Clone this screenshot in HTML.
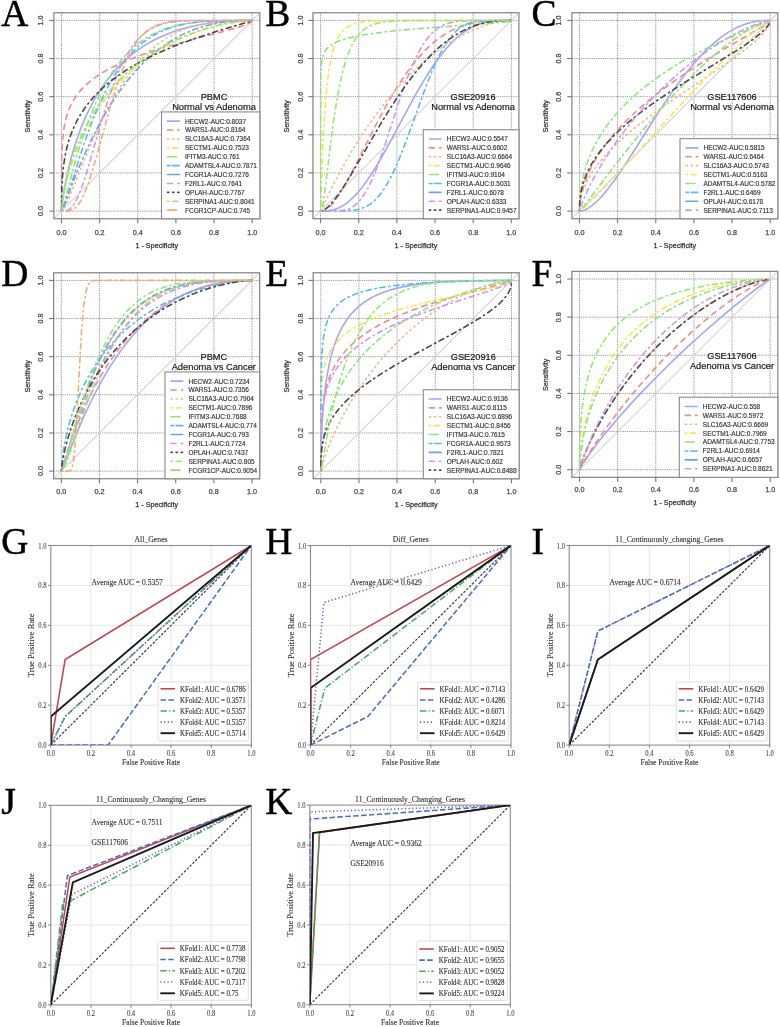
<!DOCTYPE html>
<html><head><meta charset="utf-8"><title>ROC figure</title>
<style>html,body{margin:0;padding:0;background:#fff;width:780px;height:1027px;overflow:hidden}svg{display:block;will-change:transform;filter:blur(0.6px)}text{font-variant-ligatures:none;font-kerning:normal}</style>
</head><body>
<svg width="780" height="1027" viewBox="0 0 780 1027"><text x="1.2" y="26.3" font-family='"Liberation Serif", serif' font-size="37.5" text-anchor="start" fill="#000" stroke="#000" stroke-width="0.45">A</text>
<text x="265.2" y="26.3" font-family='"Liberation Serif", serif' font-size="37.5" text-anchor="start" fill="#000" stroke="#000" stroke-width="0.45">B</text>
<text x="531.4" y="26.3" font-family='"Liberation Serif", serif' font-size="37.5" text-anchor="start" fill="#000" stroke="#000" stroke-width="0.45">C</text>
<text x="1.2" y="286.4" font-family='"Liberation Serif", serif' font-size="37.5" text-anchor="start" fill="#000" stroke="#000" stroke-width="0.45">D</text>
<text x="265.2" y="286.4" font-family='"Liberation Serif", serif' font-size="37.5" text-anchor="start" fill="#000" stroke="#000" stroke-width="0.45">E</text>
<text x="531.4" y="286.4" font-family='"Liberation Serif", serif' font-size="37.5" text-anchor="start" fill="#000" stroke="#000" stroke-width="0.45">F</text>
<text x="1.2" y="554.2" font-family='"Liberation Serif", serif' font-size="37.5" text-anchor="start" fill="#000" stroke="#000" stroke-width="0.45">G</text>
<text x="265.2" y="554.2" font-family='"Liberation Serif", serif' font-size="37.5" text-anchor="start" fill="#000" stroke="#000" stroke-width="0.45">H</text>
<text x="531.4" y="554.2" font-family='"Liberation Serif", serif' font-size="37.5" text-anchor="start" fill="#000" stroke="#000" stroke-width="0.45">I</text>
<text x="1.2" y="814" font-family='"Liberation Serif", serif' font-size="37.5" text-anchor="start" fill="#000" stroke="#000" stroke-width="0.45">J</text>
<text x="265.2" y="814" font-family='"Liberation Serif", serif' font-size="37.5" text-anchor="start" fill="#000" stroke="#000" stroke-width="0.45">K</text>
<line x1="61.5" y1="12.77" x2="61.5" y2="218.73" stroke="#9c9c9c" stroke-width="1" stroke-dasharray="1.3 0.9" stroke-linecap="butt"/>
<line x1="53.87" y1="211.1" x2="259.83" y2="211.1" stroke="#9c9c9c" stroke-width="1" stroke-dasharray="1.3 0.9" stroke-linecap="butt"/>
<line x1="99.64" y1="12.77" x2="99.64" y2="218.73" stroke="#9c9c9c" stroke-width="1" stroke-dasharray="1.3 0.9" stroke-linecap="butt"/>
<line x1="53.87" y1="172.96" x2="259.83" y2="172.96" stroke="#9c9c9c" stroke-width="1" stroke-dasharray="1.3 0.9" stroke-linecap="butt"/>
<line x1="137.78" y1="12.77" x2="137.78" y2="218.73" stroke="#9c9c9c" stroke-width="1" stroke-dasharray="1.3 0.9" stroke-linecap="butt"/>
<line x1="53.87" y1="134.82" x2="259.83" y2="134.82" stroke="#9c9c9c" stroke-width="1" stroke-dasharray="1.3 0.9" stroke-linecap="butt"/>
<line x1="175.92" y1="12.77" x2="175.92" y2="218.73" stroke="#9c9c9c" stroke-width="1" stroke-dasharray="1.3 0.9" stroke-linecap="butt"/>
<line x1="53.87" y1="96.68" x2="259.83" y2="96.68" stroke="#9c9c9c" stroke-width="1" stroke-dasharray="1.3 0.9" stroke-linecap="butt"/>
<line x1="214.06" y1="12.77" x2="214.06" y2="218.73" stroke="#9c9c9c" stroke-width="1" stroke-dasharray="1.3 0.9" stroke-linecap="butt"/>
<line x1="53.87" y1="58.54" x2="259.83" y2="58.54" stroke="#9c9c9c" stroke-width="1" stroke-dasharray="1.3 0.9" stroke-linecap="butt"/>
<line x1="252.2" y1="12.77" x2="252.2" y2="218.73" stroke="#9c9c9c" stroke-width="1" stroke-dasharray="1.3 0.9" stroke-linecap="butt"/>
<line x1="53.87" y1="20.4" x2="259.83" y2="20.4" stroke="#9c9c9c" stroke-width="1" stroke-dasharray="1.3 0.9" stroke-linecap="butt"/>
<line x1="53.87" y1="218.73" x2="259.83" y2="12.77" stroke="#d6d6d6" stroke-width="1.1" stroke-linecap="butt"/>
<path d="M61.5 211.1 L62.57 201.2 L64.28 189.73 L66.41 178.27 L68.92 166.89 L71.72 156.01 L74.84 145.44 L78.2 135.42 L81.9 125.65 L85.77 116.58 L89.99 107.76 L94.46 99.42 L99.18 91.55 L104.14 84.16 L109.33 77.24 L114.84 70.68 L120.57 64.61 L126.45 59.05 L132.62 53.88 L139.05 49.11 L145.6 44.82 L152.67 40.76 L159.85 37.19 L167.46 33.92 L175.33 31.04 L183.44 28.54 L192.02 26.36 L200.84 24.55 L210.15 23.06 L219.92 21.9 L230.17 21.08 L240.9 20.58 L252.2 20.4" fill="none" stroke="#a6a6f6" stroke-width="1.6" stroke-linecap="round" stroke-linejoin="round"/>
<path d="M61.5 211.1 L61.55 172.14 L61.88 153.16 L62.77 138.04 L63.48 131.61 L64.37 125.88 L65.65 119.85 L67.21 114.3 L69.12 109.01 L71.31 104.19 L73.96 99.42 L76.86 95.09 L80.24 90.83 L84.01 86.79 L88.27 82.85 L92.88 79.12 L98.08 75.44 L103.8 71.84 L110 68.38 L116.67 65.02 L124.07 61.66 L131.93 58.42 L148.86 52.27 L168.65 46.08 L188.92 40.43 L227.87 30.27 L239.94 26.79 L245.46 24.9 L249.28 23.23 L251.51 21.75 L252.04 21.07 L252.2 20.4" fill="none" stroke="#f68888" stroke-width="1.6" stroke-dasharray="5.12 5.12" stroke-linecap="round" stroke-linejoin="round"/>
<path d="M61.5 211.1 L62.51 210.38 L63.91 208.43 L67.56 201.25 L72.21 190.26 L85.47 157.12 L92.21 141.14 L100.6 122.78 L108.82 106.57 L113.17 98.7 L117.54 91.31 L121.92 84.4 L126.47 77.72 L131.03 71.52 L135.75 65.62 L140.36 60.31 L145.17 55.27 L150.29 50.4 L155.54 45.92 L161.02 41.76 L166.42 38.16 L172.02 34.88 L177.85 31.94 L183.67 29.44 L189.87 27.22 L196.07 25.4 L202.4 23.92 L209.09 22.71 L216.21 21.77 L223.49 21.11 L231.61 20.68 L252.2 20.4" fill="none" stroke="#f6b87f" stroke-width="1.6" stroke-dasharray="1.28 3.84" stroke-linecap="round" stroke-linejoin="round"/>
<path d="M61.5 211.1 L62.27 203.44 L63.75 194.31 L65.76 184.78 L68.21 175.24 L71.02 165.94 L74.24 156.64 L77.83 147.54 L81.76 138.65 L85.93 130.18 L90.45 121.91 L95.21 113.99 L100.28 106.33 L105.65 98.94 L111.34 91.79 L117.37 84.87 L123.59 78.37 L130.07 72.17 L136.83 66.27 L143.77 60.76 L151.01 55.52 L158.6 50.54 L166.25 46.01 L174.14 41.8 L182.29 37.9 L190.81 34.29 L199.46 31.07 L208.23 28.24 L217.29 25.75 L226.59 23.65 L235.59 22.06 L244.47 20.92 L252.2 20.4" fill="none" stroke="#f1e950" stroke-width="1.6" stroke-dasharray="1.28 3.84 5.12 3.84" stroke-linecap="round" stroke-linejoin="round"/>
<path d="M61.5 211.1 L62.36 209.36 L63.76 204.81 L73.2 168.8 L79.7 146.39 L86.38 126.36 L89.85 117.06 L93.33 108.48 L97.33 99.42 L101.38 91.07 L105.59 83.2 L109.83 76.05 L114.29 69.28 L118.97 62.94 L123.71 57.21 L128.63 51.97 L133.6 47.3 L138.85 43 L144.33 39.11 L149.82 35.77 L155.54 32.81 L161.74 30.12 L168.18 27.83 L174.8 25.94 L181.53 24.41 L188.68 23.16 L196.44 22.16 L204.89 21.41 L223.81 20.59 L252.2 20.4" fill="none" stroke="#8fe181" stroke-width="1.6" stroke-dasharray="1.28 3.84 5.12 3.84" stroke-linecap="round" stroke-linejoin="round"/>
<path d="M61.5 211.1 L62.29 210.37 L63.34 208.42 L66.14 200.99 L79.38 158.07 L86.79 135.9 L93.13 118.97 L99.51 103.89 L103.51 95.36 L107.53 87.5 L111.67 80.1 L115.91 73.19 L120.25 66.79 L124.58 61.03 L129.18 55.55 L133.84 50.6 L138.61 46.12 L143.62 42 L148.69 38.36 L154.11 35.02 L159.59 32.16 L165.54 29.56 L171.52 27.41 L177.95 25.55 L184.39 24.09 L191.3 22.9 L198.7 21.97 L206.56 21.29 L224.45 20.56 L252.2 20.4" fill="none" stroke="#56bbf0" stroke-width="1.6" stroke-dasharray="1.28 3.84 5.12 3.84" stroke-linecap="round" stroke-linejoin="round"/>
<path d="M61.5 211.1 L62.27 209.77 L63.64 206.59 L75.08 176.91 L83.34 157.12 L92.06 138.28 L100.96 121.11 L105.94 112.36 L110.92 104.19 L116.04 96.32 L121.2 88.95 L126.45 81.99 L131.87 75.34 L137.34 69.14 L142.83 63.41 L148.57 57.93 L154.36 52.89 L160.31 48.2 L166.42 43.87 L172.71 39.88 L178.91 36.4 L185.34 33.24 L192.02 30.4 L198.7 27.98 L205.61 25.89 L212.74 24.14 L219.93 22.77 L227.37 21.71 L235.18 20.97 L243.28 20.54 L252.2 20.4" fill="none" stroke="#6ca3f0" stroke-width="1.6" stroke-dasharray="1.28 3.84 5.12 3.84" stroke-linecap="round" stroke-linejoin="round"/>
<path d="M61.5 211.1 L64.56 211.02 L66.6 210.64 L68.53 209.81 L70.42 208.43 L72.27 206.47 L74.15 203.85 L75.96 200.71 L77.91 196.7 L81.48 187.88 L85.37 176.43 L89.59 162.6 L99.73 127.31 L104.65 110.86 L110 94.38 L115.11 80.34 L118.1 72.96 L121.07 66.27 L124.11 60.08 L127.16 54.47 L130.26 49.41 L133.43 44.85 L136.68 40.76 L140.04 37.13 L143.33 34.09 L146.68 31.46 L150.29 29.11 L153.93 27.17 L157.83 25.5 L161.98 24.12 L166.51 22.98 L171.51 22.08 L181.05 21.08 L193.45 20.57 L252.2 20.4" fill="none" stroke="#cb98f6" stroke-width="1.6" stroke-dasharray="1.28 3.84 5.12 3.84" stroke-linecap="round" stroke-linejoin="round"/>
<path d="M61.5 211.1 L61.82 188.07 L62.29 178.82 L63 170.47 L64.01 162.36 L65.31 154.73 L66.9 147.58 L68.82 140.65 L71.13 133.85 L73.81 127.3 L76.86 121 L80.29 114.92 L84.14 109 L88.3 103.39 L93.04 97.75 L98.08 92.43 L103.56 87.24 L109.72 82.01 L116.2 77.04 L123.11 72.24 L130.5 67.56 L138.49 62.94 L146.95 58.46 L155.78 54.16 L164.6 50.2 L173.9 46.31 L183.67 42.52 L193.93 38.8 L215.39 31.75 L247.6 22.17 L250.88 21.06 L252.2 20.4" fill="none" stroke="#494949" stroke-width="1.6" stroke-dasharray="1.28 3.84 5.12 3.84" stroke-linecap="round" stroke-linejoin="round"/>
<path d="M61.5 211.1 L62.14 203.29 L63.46 193.84 L65.26 184.26 L67.54 174.52 L70.18 165.11 L73.17 155.93 L76.55 146.87 L80.28 138.04 L84.36 129.46 L88.66 121.35 L93.31 113.45 L98.24 105.85 L103.54 98.46 L109.04 91.5 L115 84.63 L121.14 78.2 L127.64 72 L134.32 66.22 L141.23 60.76 L148.62 55.48 L156.02 50.7 L163.88 46.1 L171.99 41.86 L180.27 37.98 L188.92 34.4 L197.74 31.19 L206.8 28.33 L216.1 25.84 L225.64 23.74 L234.94 22.12 L244.24 20.94 L252.2 20.4" fill="none" stroke="#8feb73" stroke-width="1.6" stroke-dasharray="1.28 3.84 5.12 3.84" stroke-linecap="round" stroke-linejoin="round"/>
<path d="M61.5 211.1 L66.52 211.05 L69.43 210.74 L71.91 210 L74.26 208.7 L76.62 206.65 L78.97 203.75 L81.28 200.04 L83.53 195.55 L87.58 185.52 L92 172.14 L96.51 156.64 L110.9 104.42 L115.82 88.45 L120.43 75.1 L125.81 61.74 L128.6 55.8 L131.36 50.54 L134.11 45.89 L136.94 41.69 L139.9 37.9 L142.95 34.56 L145.88 31.86 L148.86 29.56 L151.96 27.57 L155.3 25.85 L158.64 24.49 L162.45 23.29 L166.51 22.36 L171.04 21.64 L179.62 20.87 L191.07 20.5 L252.2 20.4" fill="none" stroke="#f6ab70" stroke-width="1.6" stroke-dasharray="1.28 3.84 5.12 3.84" stroke-linecap="round" stroke-linejoin="round"/>
<rect x="53.87" y="12.77" width="205.96" height="205.96" fill="none" stroke="#8a8a8a" stroke-width="1.3"/>
<line x1="61.5" y1="218.73" x2="61.5" y2="223.33" stroke="#777" stroke-width="1.1" stroke-linecap="butt"/>
<text x="61.5" y="234.7" font-family='"Liberation Sans", sans-serif' font-size="7.2" text-anchor="middle" fill="#4a4a4a" stroke="#4a4a4a" stroke-width="0.25">0.0</text>
<line x1="53.87" y1="211.1" x2="49.27" y2="211.1" stroke="#777" stroke-width="1.1" stroke-linecap="butt"/>
<text x="0" y="0" font-family='"Liberation Sans", sans-serif' font-size="7.2" text-anchor="middle" fill="#4a4a4a" stroke="#4a4a4a" stroke-width="0.25" transform="translate(43.4 211.1) rotate(-90)">0.0</text>
<line x1="99.64" y1="218.73" x2="99.64" y2="223.33" stroke="#777" stroke-width="1.1" stroke-linecap="butt"/>
<text x="99.64" y="234.7" font-family='"Liberation Sans", sans-serif' font-size="7.2" text-anchor="middle" fill="#4a4a4a" stroke="#4a4a4a" stroke-width="0.25">0.2</text>
<line x1="53.87" y1="172.96" x2="49.27" y2="172.96" stroke="#777" stroke-width="1.1" stroke-linecap="butt"/>
<text x="0" y="0" font-family='"Liberation Sans", sans-serif' font-size="7.2" text-anchor="middle" fill="#4a4a4a" stroke="#4a4a4a" stroke-width="0.25" transform="translate(43.4 172.96) rotate(-90)">0.2</text>
<line x1="137.78" y1="218.73" x2="137.78" y2="223.33" stroke="#777" stroke-width="1.1" stroke-linecap="butt"/>
<text x="137.78" y="234.7" font-family='"Liberation Sans", sans-serif' font-size="7.2" text-anchor="middle" fill="#4a4a4a" stroke="#4a4a4a" stroke-width="0.25">0.4</text>
<line x1="53.87" y1="134.82" x2="49.27" y2="134.82" stroke="#777" stroke-width="1.1" stroke-linecap="butt"/>
<text x="0" y="0" font-family='"Liberation Sans", sans-serif' font-size="7.2" text-anchor="middle" fill="#4a4a4a" stroke="#4a4a4a" stroke-width="0.25" transform="translate(43.4 134.82) rotate(-90)">0.4</text>
<line x1="175.92" y1="218.73" x2="175.92" y2="223.33" stroke="#777" stroke-width="1.1" stroke-linecap="butt"/>
<text x="175.92" y="234.7" font-family='"Liberation Sans", sans-serif' font-size="7.2" text-anchor="middle" fill="#4a4a4a" stroke="#4a4a4a" stroke-width="0.25">0.6</text>
<line x1="53.87" y1="96.68" x2="49.27" y2="96.68" stroke="#777" stroke-width="1.1" stroke-linecap="butt"/>
<text x="0" y="0" font-family='"Liberation Sans", sans-serif' font-size="7.2" text-anchor="middle" fill="#4a4a4a" stroke="#4a4a4a" stroke-width="0.25" transform="translate(43.4 96.68) rotate(-90)">0.6</text>
<line x1="214.06" y1="218.73" x2="214.06" y2="223.33" stroke="#777" stroke-width="1.1" stroke-linecap="butt"/>
<text x="214.06" y="234.7" font-family='"Liberation Sans", sans-serif' font-size="7.2" text-anchor="middle" fill="#4a4a4a" stroke="#4a4a4a" stroke-width="0.25">0.8</text>
<line x1="53.87" y1="58.54" x2="49.27" y2="58.54" stroke="#777" stroke-width="1.1" stroke-linecap="butt"/>
<text x="0" y="0" font-family='"Liberation Sans", sans-serif' font-size="7.2" text-anchor="middle" fill="#4a4a4a" stroke="#4a4a4a" stroke-width="0.25" transform="translate(43.4 58.54) rotate(-90)">0.8</text>
<line x1="252.2" y1="218.73" x2="252.2" y2="223.33" stroke="#777" stroke-width="1.1" stroke-linecap="butt"/>
<text x="252.2" y="234.7" font-family='"Liberation Sans", sans-serif' font-size="7.2" text-anchor="middle" fill="#4a4a4a" stroke="#4a4a4a" stroke-width="0.25">1.0</text>
<line x1="53.87" y1="20.4" x2="49.27" y2="20.4" stroke="#777" stroke-width="1.1" stroke-linecap="butt"/>
<text x="0" y="0" font-family='"Liberation Sans", sans-serif' font-size="7.2" text-anchor="middle" fill="#4a4a4a" stroke="#4a4a4a" stroke-width="0.25" transform="translate(43.4 20.4) rotate(-90)">1.0</text>
<text x="0" y="0" font-family='"Liberation Sans", sans-serif' font-size="7.2" text-anchor="middle" fill="#333" stroke="#333" stroke-width="0.25" transform="translate(29.9 116.25) rotate(-90)">Sensitivity</text>
<text x="156.85" y="247.7" font-family='"Liberation Sans", sans-serif' font-size="7.2" text-anchor="middle" fill="#333" stroke="#333" stroke-width="0.25">1 - Specificity</text>
<text x="214" y="100.1" font-family='"Liberation Sans", sans-serif' font-size="9.2" text-anchor="middle" fill="#151515" stroke="#151515" stroke-width="0.18">PBMC</text>
<text x="214" y="110" font-family='"Liberation Sans", sans-serif' font-size="9.3" text-anchor="middle" fill="#151515" stroke="#151515" stroke-width="0.18">Normal vs Adenoma</text>
<rect x="161.5" y="111.93" width="98.33" height="106.8" fill="#fff" stroke="#8a8a8a" stroke-width="1.1"/>
<line x1="167.5" y1="121.13" x2="179.3" y2="121.13" stroke="#a6a6f6" stroke-width="1.6" stroke-linecap="round"/>
<text x="185" y="123.53" font-family='"Liberation Sans", sans-serif' font-size="6.5" text-anchor="start" fill="#333" stroke="#333" stroke-width="0.15">HECW2-AUC:0.8037</text>
<line x1="167.5" y1="130.03" x2="179.3" y2="130.03" stroke="#f68888" stroke-width="1.6" stroke-dasharray="5.12 5.12" stroke-linecap="round"/>
<text x="185" y="132.43" font-family='"Liberation Sans", sans-serif' font-size="6.5" text-anchor="start" fill="#333" stroke="#333" stroke-width="0.15">WARS1-AUC:0.8164</text>
<line x1="167.5" y1="138.93" x2="179.3" y2="138.93" stroke="#f6b87f" stroke-width="1.6" stroke-dasharray="1.28 3.84" stroke-linecap="round"/>
<text x="185" y="141.33" font-family='"Liberation Sans", sans-serif' font-size="6.5" text-anchor="start" fill="#333" stroke="#333" stroke-width="0.15">SLC16A3-AUC:0.7364</text>
<line x1="167.5" y1="147.83" x2="179.3" y2="147.83" stroke="#f1e950" stroke-width="1.6" stroke-dasharray="1.28 3.84 5.12 3.84" stroke-linecap="round"/>
<text x="185" y="150.23" font-family='"Liberation Sans", sans-serif' font-size="6.5" text-anchor="start" fill="#333" stroke="#333" stroke-width="0.15">SECTM1-AUC:0.7523</text>
<line x1="167.5" y1="156.73" x2="179.3" y2="156.73" stroke="#8fe181" stroke-width="1.6" stroke-dasharray="8.96 3.84" stroke-linecap="round"/>
<text x="185" y="159.13" font-family='"Liberation Sans", sans-serif' font-size="6.5" text-anchor="start" fill="#333" stroke="#333" stroke-width="0.15">IFITM3-AUC:0.761</text>
<line x1="167.5" y1="165.63" x2="179.3" y2="165.63" stroke="#56bbf0" stroke-width="1.6" stroke-dasharray="2.56 2.56 7.68 2.56" stroke-linecap="round"/>
<text x="185" y="168.03" font-family='"Liberation Sans", sans-serif' font-size="6.5" text-anchor="start" fill="#333" stroke="#333" stroke-width="0.15">ADAMTSL4-AUC:0.7871</text>
<line x1="167.5" y1="174.53" x2="179.3" y2="174.53" stroke="#6ca3f0" stroke-width="1.6" stroke-linecap="round"/>
<text x="185" y="176.93" font-family='"Liberation Sans", sans-serif' font-size="6.5" text-anchor="start" fill="#333" stroke="#333" stroke-width="0.15">FCGR1A-AUC:0.7276</text>
<line x1="167.5" y1="183.43" x2="179.3" y2="183.43" stroke="#cb98f6" stroke-width="1.6" stroke-dasharray="5.12 5.12" stroke-linecap="round"/>
<text x="185" y="185.83" font-family='"Liberation Sans", sans-serif' font-size="6.5" text-anchor="start" fill="#333" stroke="#333" stroke-width="0.15">F2RL1-AUC:0.7641</text>
<line x1="167.5" y1="192.33" x2="179.3" y2="192.33" stroke="#494949" stroke-width="1.6" stroke-dasharray="1.28 3.84" stroke-linecap="round"/>
<text x="185" y="194.73" font-family='"Liberation Sans", sans-serif' font-size="6.5" text-anchor="start" fill="#333" stroke="#333" stroke-width="0.15">OPLAH-AUC:0.7767</text>
<line x1="167.5" y1="201.23" x2="179.3" y2="201.23" stroke="#8feb73" stroke-width="1.6" stroke-dasharray="1.28 3.84 5.12 3.84" stroke-linecap="round"/>
<text x="185" y="203.63" font-family='"Liberation Sans", sans-serif' font-size="6.5" text-anchor="start" fill="#333" stroke="#333" stroke-width="0.15">SERPINA1-AUC:0.8041</text>
<line x1="167.5" y1="210.13" x2="179.3" y2="210.13" stroke="#f6ab70" stroke-width="1.6" stroke-dasharray="8.96 3.84" stroke-linecap="round"/>
<text x="185" y="212.53" font-family='"Liberation Sans", sans-serif' font-size="6.5" text-anchor="start" fill="#333" stroke="#333" stroke-width="0.15">FCGR1CP-AUC:0.745</text>
<line x1="320.6" y1="12.77" x2="320.6" y2="218.73" stroke="#9c9c9c" stroke-width="1" stroke-dasharray="1.3 0.9" stroke-linecap="butt"/>
<line x1="312.97" y1="211.1" x2="518.93" y2="211.1" stroke="#9c9c9c" stroke-width="1" stroke-dasharray="1.3 0.9" stroke-linecap="butt"/>
<line x1="358.74" y1="12.77" x2="358.74" y2="218.73" stroke="#9c9c9c" stroke-width="1" stroke-dasharray="1.3 0.9" stroke-linecap="butt"/>
<line x1="312.97" y1="172.96" x2="518.93" y2="172.96" stroke="#9c9c9c" stroke-width="1" stroke-dasharray="1.3 0.9" stroke-linecap="butt"/>
<line x1="396.88" y1="12.77" x2="396.88" y2="218.73" stroke="#9c9c9c" stroke-width="1" stroke-dasharray="1.3 0.9" stroke-linecap="butt"/>
<line x1="312.97" y1="134.82" x2="518.93" y2="134.82" stroke="#9c9c9c" stroke-width="1" stroke-dasharray="1.3 0.9" stroke-linecap="butt"/>
<line x1="435.02" y1="12.77" x2="435.02" y2="218.73" stroke="#9c9c9c" stroke-width="1" stroke-dasharray="1.3 0.9" stroke-linecap="butt"/>
<line x1="312.97" y1="96.68" x2="518.93" y2="96.68" stroke="#9c9c9c" stroke-width="1" stroke-dasharray="1.3 0.9" stroke-linecap="butt"/>
<line x1="473.16" y1="12.77" x2="473.16" y2="218.73" stroke="#9c9c9c" stroke-width="1" stroke-dasharray="1.3 0.9" stroke-linecap="butt"/>
<line x1="312.97" y1="58.54" x2="518.93" y2="58.54" stroke="#9c9c9c" stroke-width="1" stroke-dasharray="1.3 0.9" stroke-linecap="butt"/>
<line x1="511.3" y1="12.77" x2="511.3" y2="218.73" stroke="#9c9c9c" stroke-width="1" stroke-dasharray="1.3 0.9" stroke-linecap="butt"/>
<line x1="312.97" y1="20.4" x2="518.93" y2="20.4" stroke="#9c9c9c" stroke-width="1" stroke-dasharray="1.3 0.9" stroke-linecap="butt"/>
<line x1="312.97" y1="218.73" x2="518.93" y2="12.77" stroke="#d6d6d6" stroke-width="1.1" stroke-linecap="butt"/>
<path d="M320.6 211.1 L327.07 210.91 L332.14 210.15 L337.13 208.62 L341.92 206.33 L346.76 203.14 L351.69 198.97 L356.7 193.84 L361.87 187.64 L366.12 181.92 L370.53 175.45 L375.19 168.09 L380.16 159.74 L389.37 143.29 L413.21 98.97 L420.12 86.79 L426.43 76.29 L433.24 65.8 L439.9 56.5 L446.35 48.49 L452.62 41.72 L458.99 35.88 L465.43 31.05 L471.86 27.26 L478.54 24.35 L485.22 22.38 L492.37 21.14 L500.24 20.53 L511.3 20.4" fill="none" stroke="#a6a6f6" stroke-width="1.6" stroke-linecap="round" stroke-linejoin="round"/>
<path d="M320.6 211.1 L322.63 210.88 L324.72 210.14 L326.81 208.93 L329.04 207.17 L331.41 204.84 L333.83 202.04 L339.2 194.55 L344.16 186.45 L349.78 176.3 L378.24 120.4 L386.08 105.85 L393.36 93.22 L401.6 80.1 L409.79 68.42 L417.76 58.41 L425.85 49.64 L430.15 45.53 L434.59 41.69 L438.96 38.29 L443.49 35.15 L448.02 32.39 L452.79 29.87 L457.56 27.73 L462.33 25.93 L467.11 24.44 L472.1 23.21 L477.35 22.21 L482.91 21.44 L494.75 20.6 L511.3 20.4" fill="none" stroke="#f68888" stroke-width="1.6" stroke-dasharray="5.12 5.12" stroke-linecap="round" stroke-linejoin="round"/>
<path d="M320.6 211.1 L332.13 187.16 L341.3 169.52 L351.59 151.4 L362.29 134.23 L373.58 117.78 L385.22 102.44 L391.18 95.17 L397.21 88.21 L403.32 81.53 L409.39 75.28 L415.73 69.14 L421.98 63.44 L428.33 58.04 L434.77 52.92 L441.25 48.15 L447.78 43.72 L454.31 39.66 L460.79 35.99 L467.34 32.66 L474.01 29.63 L480.69 26.99 L487.12 24.82 L493.56 23.04 L499.86 21.68 L505.96 20.77 L511.3 20.4" fill="none" stroke="#f6b87f" stroke-width="1.6" stroke-dasharray="1.28 3.84" stroke-linecap="round" stroke-linejoin="round"/>
<path d="M320.6 211.1 L322.13 162.6 L323.61 129.46 L325.49 101.32 L326.58 89.4 L327.79 78.67 L329.09 69.37 L330.56 61.03 L332.21 53.64 L333.98 47.44 L335.96 42.04 L338.17 37.42 L340.59 33.61 L343.35 30.38 L345.73 28.29 L348.35 26.52 L351.31 25.03 L354.52 23.83 L358.13 22.87 L362.42 22.08 L372.75 21.07 L384.12 20.65 L401.29 20.45 L511.3 20.4" fill="none" stroke="#f1e950" stroke-width="1.6" stroke-dasharray="1.28 3.84 5.12 3.84" stroke-linecap="round" stroke-linejoin="round"/>
<path d="M320.6 211.1 L320.61 90.64 L320.9 70.09 L321.56 62.05 L322.1 58.9 L322.78 56.26 L323.66 53.87 L324.81 51.6 L326.18 49.59 L327.77 47.8 L330.47 45.51 L333.81 43.42 L337.78 41.53 L342.54 39.76 L348.12 38.12 L354.55 36.59 L361.94 35.15 L370.4 33.77 L389.36 31.35 L413.21 29.03 L435.38 27.27 L484.77 23.83 L500.49 22.57 L509.22 21.48 L510.91 20.98 L511.23 20.73 L511.3 20.4" fill="none" stroke="#8fe181" stroke-width="1.6" stroke-dasharray="1.28 3.84 5.12 3.84" stroke-linecap="round" stroke-linejoin="round"/>
<path d="M320.6 211.1 L339.53 211.07 L347.64 210.84 L354.55 210.16 L360.28 208.89 L363.18 207.89 L366 206.62 L368.68 205.11 L371.24 203.35 L373.83 201.23 L376.31 198.84 L381.17 193.12 L385.4 186.92 L389.78 179.29 L394.16 170.47 L398.78 159.98 L406.97 139 L425.92 86.54 L431 73.67 L435.65 62.94 L440.55 52.92 L445.34 44.58 L450.15 37.66 L454.92 32.22 L459.23 28.45 L463.73 25.5 L468.52 23.33 L473.85 21.82 L479.03 21.02 L485.45 20.57 L511.3 20.4" fill="none" stroke="#56bbf0" stroke-width="1.6" stroke-dasharray="1.28 3.84 5.12 3.84" stroke-linecap="round" stroke-linejoin="round"/>
<path d="M320.6 211.1 L333.36 211.07 L339.29 210.84 L344.32 210.16 L348.59 208.91 L350.81 207.9 L352.88 206.71 L356.94 203.51 L360.75 199.31 L364.57 193.86 L367.91 188.03 L371.24 181.21 L374.64 173.33 L378.21 164.11 L384.8 145.2 L401.52 93.86 L406.53 79.87 L411.15 68.18 L416.31 56.78 L421.33 47.44 L423.94 43.28 L426.56 39.57 L429.18 36.3 L431.88 33.37 L434.43 30.99 L436.81 29.08 L439.44 27.29 L442.3 25.68 L445.16 24.38 L448.26 23.27 L451.6 22.37 L455.07 21.69 L461.85 20.91 L470.3 20.52 L511.3 20.4" fill="none" stroke="#cb98f6" stroke-width="1.6" stroke-dasharray="1.28 3.84 5.12 3.84" stroke-linecap="round" stroke-linejoin="round"/>
<path d="M320.6 211.1 L322.18 210.81 L324.03 209.98 L326.07 208.63 L328.22 206.8 L332.96 201.71 L338.34 194.63 L343.37 187.16 L349.17 177.86 L380.2 124.69 L388.66 110.86 L396.62 98.51 L405.58 85.55 L414.36 73.9 L422.92 63.65 L431.41 54.59 L436.1 50.07 L440.72 45.96 L445.4 42.13 L450.11 38.62 L454.72 35.52 L459.48 32.66 L464.23 30.13 L469 27.93 L473.77 26.04 L478.58 24.45 L483.56 23.12 L488.66 22.06 L493.83 21.29 L499.21 20.76 L511.3 20.4" fill="none" stroke="#494949" stroke-width="1.6" stroke-dasharray="1.28 3.84 5.12 3.84" stroke-linecap="round" stroke-linejoin="round"/>
<path d="M320.6 211.1 L320.99 211 L321.33 210.63 L322.03 208.86 L323.61 200.75 L325.52 186.45 L330.89 141.14 L333.64 120.4 L337.21 97.71 L340.92 78.91 L342.99 70.33 L345.13 62.7 L347.37 55.88 L349.73 49.82 L352.18 44.58 L354.89 39.81 L357.65 35.88 L360.71 32.42 L363.38 30.02 L366.34 27.89 L369.57 26.07 L372.91 24.65 L376.73 23.44 L380.78 22.51 L385.55 21.76 L390.8 21.23 L401.05 20.71 L416.07 20.46 L511.3 20.4" fill="none" stroke="#8feb73" stroke-width="1.6" stroke-dasharray="1.28 3.84 5.12 3.84" stroke-linecap="round" stroke-linejoin="round"/>
<rect x="312.97" y="12.77" width="205.96" height="205.96" fill="none" stroke="#8a8a8a" stroke-width="1.3"/>
<line x1="320.6" y1="218.73" x2="320.6" y2="223.33" stroke="#777" stroke-width="1.1" stroke-linecap="butt"/>
<text x="320.6" y="234.7" font-family='"Liberation Sans", sans-serif' font-size="7.2" text-anchor="middle" fill="#4a4a4a" stroke="#4a4a4a" stroke-width="0.25">0.0</text>
<line x1="312.97" y1="211.1" x2="308.37" y2="211.1" stroke="#777" stroke-width="1.1" stroke-linecap="butt"/>
<text x="0" y="0" font-family='"Liberation Sans", sans-serif' font-size="7.2" text-anchor="middle" fill="#4a4a4a" stroke="#4a4a4a" stroke-width="0.25" transform="translate(302.5 211.1) rotate(-90)">0.0</text>
<line x1="358.74" y1="218.73" x2="358.74" y2="223.33" stroke="#777" stroke-width="1.1" stroke-linecap="butt"/>
<text x="358.74" y="234.7" font-family='"Liberation Sans", sans-serif' font-size="7.2" text-anchor="middle" fill="#4a4a4a" stroke="#4a4a4a" stroke-width="0.25">0.2</text>
<line x1="312.97" y1="172.96" x2="308.37" y2="172.96" stroke="#777" stroke-width="1.1" stroke-linecap="butt"/>
<text x="0" y="0" font-family='"Liberation Sans", sans-serif' font-size="7.2" text-anchor="middle" fill="#4a4a4a" stroke="#4a4a4a" stroke-width="0.25" transform="translate(302.5 172.96) rotate(-90)">0.2</text>
<line x1="396.88" y1="218.73" x2="396.88" y2="223.33" stroke="#777" stroke-width="1.1" stroke-linecap="butt"/>
<text x="396.88" y="234.7" font-family='"Liberation Sans", sans-serif' font-size="7.2" text-anchor="middle" fill="#4a4a4a" stroke="#4a4a4a" stroke-width="0.25">0.4</text>
<line x1="312.97" y1="134.82" x2="308.37" y2="134.82" stroke="#777" stroke-width="1.1" stroke-linecap="butt"/>
<text x="0" y="0" font-family='"Liberation Sans", sans-serif' font-size="7.2" text-anchor="middle" fill="#4a4a4a" stroke="#4a4a4a" stroke-width="0.25" transform="translate(302.5 134.82) rotate(-90)">0.4</text>
<line x1="435.02" y1="218.73" x2="435.02" y2="223.33" stroke="#777" stroke-width="1.1" stroke-linecap="butt"/>
<text x="435.02" y="234.7" font-family='"Liberation Sans", sans-serif' font-size="7.2" text-anchor="middle" fill="#4a4a4a" stroke="#4a4a4a" stroke-width="0.25">0.6</text>
<line x1="312.97" y1="96.68" x2="308.37" y2="96.68" stroke="#777" stroke-width="1.1" stroke-linecap="butt"/>
<text x="0" y="0" font-family='"Liberation Sans", sans-serif' font-size="7.2" text-anchor="middle" fill="#4a4a4a" stroke="#4a4a4a" stroke-width="0.25" transform="translate(302.5 96.68) rotate(-90)">0.6</text>
<line x1="473.16" y1="218.73" x2="473.16" y2="223.33" stroke="#777" stroke-width="1.1" stroke-linecap="butt"/>
<text x="473.16" y="234.7" font-family='"Liberation Sans", sans-serif' font-size="7.2" text-anchor="middle" fill="#4a4a4a" stroke="#4a4a4a" stroke-width="0.25">0.8</text>
<line x1="312.97" y1="58.54" x2="308.37" y2="58.54" stroke="#777" stroke-width="1.1" stroke-linecap="butt"/>
<text x="0" y="0" font-family='"Liberation Sans", sans-serif' font-size="7.2" text-anchor="middle" fill="#4a4a4a" stroke="#4a4a4a" stroke-width="0.25" transform="translate(302.5 58.54) rotate(-90)">0.8</text>
<line x1="511.3" y1="218.73" x2="511.3" y2="223.33" stroke="#777" stroke-width="1.1" stroke-linecap="butt"/>
<text x="511.3" y="234.7" font-family='"Liberation Sans", sans-serif' font-size="7.2" text-anchor="middle" fill="#4a4a4a" stroke="#4a4a4a" stroke-width="0.25">1.0</text>
<line x1="312.97" y1="20.4" x2="308.37" y2="20.4" stroke="#777" stroke-width="1.1" stroke-linecap="butt"/>
<text x="0" y="0" font-family='"Liberation Sans", sans-serif' font-size="7.2" text-anchor="middle" fill="#4a4a4a" stroke="#4a4a4a" stroke-width="0.25" transform="translate(302.5 20.4) rotate(-90)">1.0</text>
<text x="0" y="0" font-family='"Liberation Sans", sans-serif' font-size="7.2" text-anchor="middle" fill="#333" stroke="#333" stroke-width="0.25" transform="translate(289 116.25) rotate(-90)">Sensitivity</text>
<text x="415.95" y="247.7" font-family='"Liberation Sans", sans-serif' font-size="7.2" text-anchor="middle" fill="#333" stroke="#333" stroke-width="0.25">1 - Specificity</text>
<text x="473.1" y="100.1" font-family='"Liberation Sans", sans-serif' font-size="9.2" text-anchor="middle" fill="#151515" stroke="#151515" stroke-width="0.18">GSE20916</text>
<text x="473.1" y="110" font-family='"Liberation Sans", sans-serif' font-size="9.3" text-anchor="middle" fill="#151515" stroke="#151515" stroke-width="0.18">Normal vs Adenoma</text>
<rect x="423.3" y="129.73" width="95.63" height="89" fill="#fff" stroke="#8a8a8a" stroke-width="1.1"/>
<line x1="429.3" y1="138.93" x2="441.1" y2="138.93" stroke="#a6a6f6" stroke-width="1.6" stroke-linecap="round"/>
<text x="446.8" y="141.33" font-family='"Liberation Sans", sans-serif' font-size="6.5" text-anchor="start" fill="#333" stroke="#333" stroke-width="0.15">HECW2-AUC:0.5547</text>
<line x1="429.3" y1="147.83" x2="441.1" y2="147.83" stroke="#f68888" stroke-width="1.6" stroke-dasharray="5.12 5.12" stroke-linecap="round"/>
<text x="446.8" y="150.23" font-family='"Liberation Sans", sans-serif' font-size="6.5" text-anchor="start" fill="#333" stroke="#333" stroke-width="0.15">WARS1-AUC:0.6602</text>
<line x1="429.3" y1="156.73" x2="441.1" y2="156.73" stroke="#f6b87f" stroke-width="1.6" stroke-dasharray="1.28 3.84" stroke-linecap="round"/>
<text x="446.8" y="159.13" font-family='"Liberation Sans", sans-serif' font-size="6.5" text-anchor="start" fill="#333" stroke="#333" stroke-width="0.15">SLC16A3-AUC:0.6664</text>
<line x1="429.3" y1="165.63" x2="441.1" y2="165.63" stroke="#f1e950" stroke-width="1.6" stroke-dasharray="1.28 3.84 5.12 3.84" stroke-linecap="round"/>
<text x="446.8" y="168.03" font-family='"Liberation Sans", sans-serif' font-size="6.5" text-anchor="start" fill="#333" stroke="#333" stroke-width="0.15">SECTM1-AUC:0.9646</text>
<line x1="429.3" y1="174.53" x2="441.1" y2="174.53" stroke="#8fe181" stroke-width="1.6" stroke-dasharray="8.96 3.84" stroke-linecap="round"/>
<text x="446.8" y="176.93" font-family='"Liberation Sans", sans-serif' font-size="6.5" text-anchor="start" fill="#333" stroke="#333" stroke-width="0.15">IFITM3-AUC:0.9104</text>
<line x1="429.3" y1="183.43" x2="441.1" y2="183.43" stroke="#56bbf0" stroke-width="1.6" stroke-dasharray="2.56 2.56 7.68 2.56" stroke-linecap="round"/>
<text x="446.8" y="185.83" font-family='"Liberation Sans", sans-serif' font-size="6.5" text-anchor="start" fill="#333" stroke="#333" stroke-width="0.15">FCGR1A-AUC:0.5031</text>
<line x1="429.3" y1="192.33" x2="441.1" y2="192.33" stroke="#6ca3f0" stroke-width="1.6" stroke-linecap="round"/>
<text x="446.8" y="194.73" font-family='"Liberation Sans", sans-serif' font-size="6.5" text-anchor="start" fill="#333" stroke="#333" stroke-width="0.15">F2RL1-AUC:0.6078</text>
<line x1="429.3" y1="201.23" x2="441.1" y2="201.23" stroke="#cb98f6" stroke-width="1.6" stroke-dasharray="5.12 5.12" stroke-linecap="round"/>
<text x="446.8" y="203.63" font-family='"Liberation Sans", sans-serif' font-size="6.5" text-anchor="start" fill="#333" stroke="#333" stroke-width="0.15">OPLAH-AUC:0.6333</text>
<line x1="429.3" y1="210.13" x2="441.1" y2="210.13" stroke="#494949" stroke-width="1.6" stroke-dasharray="1.28 3.84" stroke-linecap="round"/>
<text x="446.8" y="212.53" font-family='"Liberation Sans", sans-serif' font-size="6.5" text-anchor="start" fill="#333" stroke="#333" stroke-width="0.15">SERPINA1-AUC:0.9457</text>
<line x1="579.5" y1="12.77" x2="579.5" y2="218.73" stroke="#9c9c9c" stroke-width="1" stroke-dasharray="1.3 0.9" stroke-linecap="butt"/>
<line x1="571.87" y1="211.1" x2="777.83" y2="211.1" stroke="#9c9c9c" stroke-width="1" stroke-dasharray="1.3 0.9" stroke-linecap="butt"/>
<line x1="617.64" y1="12.77" x2="617.64" y2="218.73" stroke="#9c9c9c" stroke-width="1" stroke-dasharray="1.3 0.9" stroke-linecap="butt"/>
<line x1="571.87" y1="172.96" x2="777.83" y2="172.96" stroke="#9c9c9c" stroke-width="1" stroke-dasharray="1.3 0.9" stroke-linecap="butt"/>
<line x1="655.78" y1="12.77" x2="655.78" y2="218.73" stroke="#9c9c9c" stroke-width="1" stroke-dasharray="1.3 0.9" stroke-linecap="butt"/>
<line x1="571.87" y1="134.82" x2="777.83" y2="134.82" stroke="#9c9c9c" stroke-width="1" stroke-dasharray="1.3 0.9" stroke-linecap="butt"/>
<line x1="693.92" y1="12.77" x2="693.92" y2="218.73" stroke="#9c9c9c" stroke-width="1" stroke-dasharray="1.3 0.9" stroke-linecap="butt"/>
<line x1="571.87" y1="96.68" x2="777.83" y2="96.68" stroke="#9c9c9c" stroke-width="1" stroke-dasharray="1.3 0.9" stroke-linecap="butt"/>
<line x1="732.06" y1="12.77" x2="732.06" y2="218.73" stroke="#9c9c9c" stroke-width="1" stroke-dasharray="1.3 0.9" stroke-linecap="butt"/>
<line x1="571.87" y1="58.54" x2="777.83" y2="58.54" stroke="#9c9c9c" stroke-width="1" stroke-dasharray="1.3 0.9" stroke-linecap="butt"/>
<line x1="770.2" y1="12.77" x2="770.2" y2="218.73" stroke="#9c9c9c" stroke-width="1" stroke-dasharray="1.3 0.9" stroke-linecap="butt"/>
<line x1="571.87" y1="20.4" x2="777.83" y2="20.4" stroke="#9c9c9c" stroke-width="1" stroke-dasharray="1.3 0.9" stroke-linecap="butt"/>
<line x1="571.87" y1="218.73" x2="777.83" y2="12.77" stroke="#d6d6d6" stroke-width="1.1" stroke-linecap="butt"/>
<path d="M579.5 211.1 L582.35 210.74 L585.45 209.68 L588.77 207.9 L592.26 205.44 L595.83 202.4 L599.76 198.5 L603.92 193.87 L608.21 188.61 L615.6 178.68 L623.98 166.42 L632.53 153.23 L658.04 112.98 L666.2 100.61 L673.78 89.6 L682.12 78.16 L690.14 67.94 L697.89 58.88 L705.49 50.85 L713.6 43.27 L721.46 36.93 L729.33 31.63 L737.2 27.39 L741.02 25.71 L745.07 24.2 L748.95 23 L753.02 22.01 L756.99 21.28 L761.27 20.76 L770.2 20.4" fill="none" stroke="#a6a6f6" stroke-width="1.6" stroke-linecap="round" stroke-linejoin="round"/>
<path d="M579.5 211.1 L579.73 205.85 L580.36 200.35 L581.36 194.79 L582.75 189.07 L584.49 183.35 L586.59 177.62 L589.04 171.9 L591.81 166.23 L594.98 160.46 L598.43 154.79 L602.25 149.1 L606.31 143.53 L610.82 137.81 L615.6 132.17 L620.84 126.4 L626.33 120.75 L637.3 110.35 L649.41 99.95 L662.57 89.61 L677.12 79.07 L692.11 68.96 L708.59 58.52 L722.57 50.06 L751.53 33.09 L761.04 27.32 L767.48 22.98 L769.38 21.4 L770.2 20.4" fill="none" stroke="#f68888" stroke-width="1.6" stroke-dasharray="5.12 5.12" stroke-linecap="round" stroke-linejoin="round"/>
<path d="M579.5 211.1 L579.62 207.22 L579.99 203.37 L580.61 199.56 L581.48 195.74 L582.6 191.93 L584 188.04 L587.56 180.25 L592.16 172.38 L597.87 164.33 L604.63 156.18 L612.5 147.85 L620.61 140.12 L629.8 132.08 L640.08 123.74 L651.43 115.1 L662.21 107.29 L674.49 98.71 L726.47 63.51 L738.22 55.07 L747.8 47.68 L752.94 43.38 L757.41 39.33 L761.09 35.66 L764.25 32.11 L766.77 28.76 L768.62 25.65 L769.78 22.83 L770.2 20.4" fill="none" stroke="#f6b87f" stroke-width="1.6" stroke-dasharray="1.28 3.84" stroke-linecap="round" stroke-linejoin="round"/>
<path d="M579.5 211.1 L583.18 208.37 L589.34 202.8 L597.01 195.27 L606.54 185.44 L625.37 165.28 L685.95 99.18 L704.77 79.26 L721.22 62.46 L737.41 46.72 L751.22 34.25 L757.44 29.08 L762.71 25.03 L767.21 21.96 L770.2 20.4" fill="none" stroke="#f1e950" stroke-width="1.6" stroke-dasharray="1.28 3.84 5.12 3.84" stroke-linecap="round" stroke-linejoin="round"/>
<path d="M579.5 211.1 L582.15 208.26 L587.12 202.03 L611.55 169.76 L624.42 153.09 L644.12 128.62 L655.9 114.68 L667.58 101.45 L678.93 89.16 L689.99 77.8 L701.9 66.27 L713.36 55.94 L724.56 46.61 L735.16 38.59 L745.55 31.62 L755.08 26.14 L759.59 23.94 L763.73 22.21 L767.44 20.97 L770.2 20.4" fill="none" stroke="#8fe181" stroke-width="1.6" stroke-dasharray="1.28 3.84 5.12 3.84" stroke-linecap="round" stroke-linejoin="round"/>
<path d="M579.5 211.1 L579.68 203.33 L580.21 195.78 L581.1 188.35 L582.32 181.2 L583.9 174.17 L585.84 167.26 L588.14 160.46 L590.8 153.78 L593.88 147.1 L597.24 140.71 L600.93 134.47 L605.11 128.15 L609.64 121.96 L614.54 115.88 L619.81 109.91 L625.37 104.11 L631.34 98.38 L637.67 92.74 L644.3 87.26 L651.36 81.8 L658.76 76.48 L666.62 71.16 L674.73 66.03 L683.31 60.92 L700.48 51.53 L719.08 42.4 L735.77 34.93 L765.5 22.66 L770.2 20.4" fill="none" stroke="#8feb73" stroke-width="1.6" stroke-dasharray="1.28 3.84 5.12 3.84" stroke-linecap="round" stroke-linejoin="round"/>
<path d="M579.5 211.1 L579.6 205.51 L579.92 200.42 L580.5 195.51 L581.34 190.71 L582.46 185.95 L583.87 181.2 L585.56 176.54 L587.53 171.9 L589.85 167.22 L592.44 162.6 L595.29 158.07 L598.48 153.48 L602.01 148.87 L605.82 144.29 L614.41 135.09 L623.42 126.6 L633.48 118.06 L644.77 109.32 L657.56 100.17 L669.49 92.17 L683.01 83.51 L735.29 51.39 L744.98 45.05 L752.73 39.61 L760.17 33.73 L765.57 28.57 L767.54 26.22 L768.96 24.07 L769.87 22.1 L770.2 20.4" fill="none" stroke="#494949" stroke-width="1.6" stroke-dasharray="1.28 3.84 5.12 3.84" stroke-linecap="round" stroke-linejoin="round"/>
<path d="M579.5 211.1 L581.06 206 L583.71 199.08 L586.99 191.63 L590.89 183.58 L595.09 175.64 L599.65 167.61 L604.57 159.5 L609.8 151.4 L615.18 143.53 L620.84 135.67 L632.76 120.4 L645.43 105.71 L658.76 91.7 L672.58 78.55 L679.74 72.25 L686.89 66.27 L694.18 60.51 L701.46 55.07 L708.83 49.88 L716.22 44.99 L723.81 40.31 L731.24 36.05 L738.59 32.18 L745.74 28.74 L752.74 25.74 L759.39 23.26 L765.57 21.37 L770.2 20.4" fill="none" stroke="#cb98f6" stroke-width="1.6" stroke-dasharray="1.28 3.84 5.12 3.84" stroke-linecap="round" stroke-linejoin="round"/>
<rect x="571.87" y="12.77" width="205.96" height="205.96" fill="none" stroke="#8a8a8a" stroke-width="1.3"/>
<line x1="579.5" y1="218.73" x2="579.5" y2="223.33" stroke="#777" stroke-width="1.1" stroke-linecap="butt"/>
<text x="579.5" y="234.7" font-family='"Liberation Sans", sans-serif' font-size="7.2" text-anchor="middle" fill="#4a4a4a" stroke="#4a4a4a" stroke-width="0.25">0.0</text>
<line x1="571.87" y1="211.1" x2="567.27" y2="211.1" stroke="#777" stroke-width="1.1" stroke-linecap="butt"/>
<text x="0" y="0" font-family='"Liberation Sans", sans-serif' font-size="7.2" text-anchor="middle" fill="#4a4a4a" stroke="#4a4a4a" stroke-width="0.25" transform="translate(561.4 211.1) rotate(-90)">0.0</text>
<line x1="617.64" y1="218.73" x2="617.64" y2="223.33" stroke="#777" stroke-width="1.1" stroke-linecap="butt"/>
<text x="617.64" y="234.7" font-family='"Liberation Sans", sans-serif' font-size="7.2" text-anchor="middle" fill="#4a4a4a" stroke="#4a4a4a" stroke-width="0.25">0.2</text>
<line x1="571.87" y1="172.96" x2="567.27" y2="172.96" stroke="#777" stroke-width="1.1" stroke-linecap="butt"/>
<text x="0" y="0" font-family='"Liberation Sans", sans-serif' font-size="7.2" text-anchor="middle" fill="#4a4a4a" stroke="#4a4a4a" stroke-width="0.25" transform="translate(561.4 172.96) rotate(-90)">0.2</text>
<line x1="655.78" y1="218.73" x2="655.78" y2="223.33" stroke="#777" stroke-width="1.1" stroke-linecap="butt"/>
<text x="655.78" y="234.7" font-family='"Liberation Sans", sans-serif' font-size="7.2" text-anchor="middle" fill="#4a4a4a" stroke="#4a4a4a" stroke-width="0.25">0.4</text>
<line x1="571.87" y1="134.82" x2="567.27" y2="134.82" stroke="#777" stroke-width="1.1" stroke-linecap="butt"/>
<text x="0" y="0" font-family='"Liberation Sans", sans-serif' font-size="7.2" text-anchor="middle" fill="#4a4a4a" stroke="#4a4a4a" stroke-width="0.25" transform="translate(561.4 134.82) rotate(-90)">0.4</text>
<line x1="693.92" y1="218.73" x2="693.92" y2="223.33" stroke="#777" stroke-width="1.1" stroke-linecap="butt"/>
<text x="693.92" y="234.7" font-family='"Liberation Sans", sans-serif' font-size="7.2" text-anchor="middle" fill="#4a4a4a" stroke="#4a4a4a" stroke-width="0.25">0.6</text>
<line x1="571.87" y1="96.68" x2="567.27" y2="96.68" stroke="#777" stroke-width="1.1" stroke-linecap="butt"/>
<text x="0" y="0" font-family='"Liberation Sans", sans-serif' font-size="7.2" text-anchor="middle" fill="#4a4a4a" stroke="#4a4a4a" stroke-width="0.25" transform="translate(561.4 96.68) rotate(-90)">0.6</text>
<line x1="732.06" y1="218.73" x2="732.06" y2="223.33" stroke="#777" stroke-width="1.1" stroke-linecap="butt"/>
<text x="732.06" y="234.7" font-family='"Liberation Sans", sans-serif' font-size="7.2" text-anchor="middle" fill="#4a4a4a" stroke="#4a4a4a" stroke-width="0.25">0.8</text>
<line x1="571.87" y1="58.54" x2="567.27" y2="58.54" stroke="#777" stroke-width="1.1" stroke-linecap="butt"/>
<text x="0" y="0" font-family='"Liberation Sans", sans-serif' font-size="7.2" text-anchor="middle" fill="#4a4a4a" stroke="#4a4a4a" stroke-width="0.25" transform="translate(561.4 58.54) rotate(-90)">0.8</text>
<line x1="770.2" y1="218.73" x2="770.2" y2="223.33" stroke="#777" stroke-width="1.1" stroke-linecap="butt"/>
<text x="770.2" y="234.7" font-family='"Liberation Sans", sans-serif' font-size="7.2" text-anchor="middle" fill="#4a4a4a" stroke="#4a4a4a" stroke-width="0.25">1.0</text>
<line x1="571.87" y1="20.4" x2="567.27" y2="20.4" stroke="#777" stroke-width="1.1" stroke-linecap="butt"/>
<text x="0" y="0" font-family='"Liberation Sans", sans-serif' font-size="7.2" text-anchor="middle" fill="#4a4a4a" stroke="#4a4a4a" stroke-width="0.25" transform="translate(561.4 20.4) rotate(-90)">1.0</text>
<text x="0" y="0" font-family='"Liberation Sans", sans-serif' font-size="7.2" text-anchor="middle" fill="#333" stroke="#333" stroke-width="0.25" transform="translate(547.9 116.25) rotate(-90)">Sensitivity</text>
<text x="674.85" y="247.7" font-family='"Liberation Sans", sans-serif' font-size="7.2" text-anchor="middle" fill="#333" stroke="#333" stroke-width="0.25">1 - Specificity</text>
<text x="732" y="100.1" font-family='"Liberation Sans", sans-serif' font-size="9.2" text-anchor="middle" fill="#151515" stroke="#151515" stroke-width="0.18">GSE117606</text>
<text x="732" y="110" font-family='"Liberation Sans", sans-serif' font-size="9.3" text-anchor="middle" fill="#151515" stroke="#151515" stroke-width="0.18">Normal vs Adenoma</text>
<rect x="680" y="138.63" width="97.83" height="80.1" fill="#fff" stroke="#8a8a8a" stroke-width="1.1"/>
<line x1="686" y1="147.83" x2="697.8" y2="147.83" stroke="#a6a6f6" stroke-width="1.6" stroke-linecap="round"/>
<text x="703.5" y="150.23" font-family='"Liberation Sans", sans-serif' font-size="6.5" text-anchor="start" fill="#333" stroke="#333" stroke-width="0.15">HECW2-AUC:0.5815</text>
<line x1="686" y1="156.73" x2="697.8" y2="156.73" stroke="#f68888" stroke-width="1.6" stroke-dasharray="5.12 5.12" stroke-linecap="round"/>
<text x="703.5" y="159.13" font-family='"Liberation Sans", sans-serif' font-size="6.5" text-anchor="start" fill="#333" stroke="#333" stroke-width="0.15">WARS1-AUC:0.6464</text>
<line x1="686" y1="165.63" x2="697.8" y2="165.63" stroke="#f6b87f" stroke-width="1.6" stroke-dasharray="1.28 3.84" stroke-linecap="round"/>
<text x="703.5" y="168.03" font-family='"Liberation Sans", sans-serif' font-size="6.5" text-anchor="start" fill="#333" stroke="#333" stroke-width="0.15">SLC16A3-AUC:0.5743</text>
<line x1="686" y1="174.53" x2="697.8" y2="174.53" stroke="#f1e950" stroke-width="1.6" stroke-dasharray="1.28 3.84 5.12 3.84" stroke-linecap="round"/>
<text x="703.5" y="176.93" font-family='"Liberation Sans", sans-serif' font-size="6.5" text-anchor="start" fill="#333" stroke="#333" stroke-width="0.15">SECTM1-AUC:0.5163</text>
<line x1="686" y1="183.43" x2="697.8" y2="183.43" stroke="#8fe181" stroke-width="1.6" stroke-dasharray="8.96 3.84" stroke-linecap="round"/>
<text x="703.5" y="185.83" font-family='"Liberation Sans", sans-serif' font-size="6.5" text-anchor="start" fill="#333" stroke="#333" stroke-width="0.15">ADAMTSL4-AUC:0.5782</text>
<line x1="686" y1="192.33" x2="697.8" y2="192.33" stroke="#56bbf0" stroke-width="1.6" stroke-dasharray="2.56 2.56 7.68 2.56" stroke-linecap="round"/>
<text x="703.5" y="194.73" font-family='"Liberation Sans", sans-serif' font-size="6.5" text-anchor="start" fill="#333" stroke="#333" stroke-width="0.15">F2RL1-AUC:0.6469</text>
<line x1="686" y1="201.23" x2="697.8" y2="201.23" stroke="#6ca3f0" stroke-width="1.6" stroke-linecap="round"/>
<text x="703.5" y="203.63" font-family='"Liberation Sans", sans-serif' font-size="6.5" text-anchor="start" fill="#333" stroke="#333" stroke-width="0.15">OPLAH-AUC:0.6178</text>
<line x1="686" y1="210.13" x2="697.8" y2="210.13" stroke="#cb98f6" stroke-width="1.6" stroke-dasharray="5.12 5.12" stroke-linecap="round"/>
<text x="703.5" y="212.53" font-family='"Liberation Sans", sans-serif' font-size="6.5" text-anchor="start" fill="#333" stroke="#333" stroke-width="0.15">SERPINA1-AUC:0.7113</text>
<line x1="61.3" y1="272.77" x2="61.3" y2="478.73" stroke="#9c9c9c" stroke-width="1" stroke-dasharray="1.3 0.9" stroke-linecap="butt"/>
<line x1="53.67" y1="471.1" x2="259.63" y2="471.1" stroke="#9c9c9c" stroke-width="1" stroke-dasharray="1.3 0.9" stroke-linecap="butt"/>
<line x1="99.44" y1="272.77" x2="99.44" y2="478.73" stroke="#9c9c9c" stroke-width="1" stroke-dasharray="1.3 0.9" stroke-linecap="butt"/>
<line x1="53.67" y1="432.96" x2="259.63" y2="432.96" stroke="#9c9c9c" stroke-width="1" stroke-dasharray="1.3 0.9" stroke-linecap="butt"/>
<line x1="137.58" y1="272.77" x2="137.58" y2="478.73" stroke="#9c9c9c" stroke-width="1" stroke-dasharray="1.3 0.9" stroke-linecap="butt"/>
<line x1="53.67" y1="394.82" x2="259.63" y2="394.82" stroke="#9c9c9c" stroke-width="1" stroke-dasharray="1.3 0.9" stroke-linecap="butt"/>
<line x1="175.72" y1="272.77" x2="175.72" y2="478.73" stroke="#9c9c9c" stroke-width="1" stroke-dasharray="1.3 0.9" stroke-linecap="butt"/>
<line x1="53.67" y1="356.68" x2="259.63" y2="356.68" stroke="#9c9c9c" stroke-width="1" stroke-dasharray="1.3 0.9" stroke-linecap="butt"/>
<line x1="213.86" y1="272.77" x2="213.86" y2="478.73" stroke="#9c9c9c" stroke-width="1" stroke-dasharray="1.3 0.9" stroke-linecap="butt"/>
<line x1="53.67" y1="318.54" x2="259.63" y2="318.54" stroke="#9c9c9c" stroke-width="1" stroke-dasharray="1.3 0.9" stroke-linecap="butt"/>
<line x1="252" y1="272.77" x2="252" y2="478.73" stroke="#9c9c9c" stroke-width="1" stroke-dasharray="1.3 0.9" stroke-linecap="butt"/>
<line x1="53.67" y1="280.4" x2="259.63" y2="280.4" stroke="#9c9c9c" stroke-width="1" stroke-dasharray="1.3 0.9" stroke-linecap="butt"/>
<line x1="53.67" y1="478.73" x2="259.63" y2="272.77" stroke="#d6d6d6" stroke-width="1.1" stroke-linecap="butt"/>
<path d="M61.3 471.1 L62.07 469.79 L63.44 466.67 L75.06 437.15 L83.48 417.36 L92.24 398.75 L101.27 381.59 L106.21 373.01 L111.23 364.84 L116.36 357.03 L121.57 349.64 L126.81 342.73 L132.26 336.05 L137.74 329.85 L143.42 323.93 L149.14 318.46 L154.94 313.4 L160.96 308.63 L167.02 304.3 L173.22 300.33 L179.6 296.71 L186.07 293.48 L192.53 290.68 L199.26 288.19 L206.13 286.06 L213.28 284.25 L220.43 282.84 L227.82 281.75 L235.45 280.99 L243.41 280.54 L252 280.4" fill="none" stroke="#a6a6f6" stroke-width="1.6" stroke-linecap="round" stroke-linejoin="round"/>
<path d="M61.3 471.1 L68.79 447.38 L72.48 436.91 L76.37 426.66 L80.58 416.4 L84.89 406.63 L89.43 397.09 L94.06 388.02 L98.91 379.21 L104 370.62 L109.18 362.52 L114.45 354.89 L119.96 347.5 L125.55 340.58 L131.41 333.9 L137.34 327.71 L143.42 321.89 L149.6 316.5 L155.82 311.57 L162.25 306.96 L168.91 302.67 L175.61 298.83 L182.52 295.32 L189.61 292.18 L196.83 289.42 L204.22 287.03 L211.61 285.05 L219.28 283.41 L227.17 282.11 L235.21 281.18 L243.56 280.6 L252 280.4" fill="none" stroke="#f68888" stroke-width="1.6" stroke-dasharray="5.12 5.12" stroke-linecap="round" stroke-linejoin="round"/>
<path d="M61.3 471.1 L61.76 470.53 L62.43 469.08 L64.29 463.65 L75.04 426.66 L82.01 404.72 L88.88 385.65 L95.97 368.52 L100.02 359.8 L104.2 351.55 L108.44 343.92 L112.9 336.64 L117.43 329.94 L122.05 323.78 L126.75 318.17 L131.73 312.86 L136.74 308.14 L141.99 303.79 L147.47 299.84 L152.95 296.42 L158.68 293.36 L164.81 290.61 L171.13 288.26 L177.75 286.25 L184.43 284.65 L191.58 283.32 L199.21 282.26 L207.26 281.48 L215.9 280.94 L225.44 280.61 L252 280.4" fill="none" stroke="#f6b87f" stroke-width="1.6" stroke-dasharray="1.28 3.84" stroke-linecap="round" stroke-linejoin="round"/>
<path d="M61.3 471.1 L62.26 469.28 L63.84 464.57 L74.06 428.99 L80.97 407.1 L87.99 387.55 L91.6 378.49 L95.25 370.01 L99.41 361.09 L103.6 352.87 L107.93 345.11 L112.42 337.79 L117 331.04 L121.72 324.77 L126.57 318.99 L131.62 313.64 L136.74 308.82 L141.99 304.47 L147.47 300.49 L153.12 296.95 L158.92 293.83 L165.11 291.01 L171.48 288.6 L178.23 286.52 L184.9 284.88 L192.06 283.5 L199.65 282.4 L207.81 281.57 L216.38 281 L226.02 280.63 L252 280.4" fill="none" stroke="#f1e950" stroke-width="1.6" stroke-dasharray="1.28 3.84 5.12 3.84" stroke-linecap="round" stroke-linejoin="round"/>
<path d="M61.3 471.1 L62.26 470.41 L63.49 468.55 L66.66 461.47 L70.74 450.26 L82.55 415.6 L88.67 398.76 L96.26 379.68 L103.84 362.83 L107.89 354.71 L111.94 347.19 L116.09 340.1 L120.34 333.43 L124.66 327.23 L129.05 321.51 L133.5 316.26 L138.17 311.32 L142.94 306.82 L147.95 302.64 L153.14 298.85 L158.43 295.52 L163.92 292.56 L169.64 289.96 L175.61 287.71 L181.8 285.82 L188.03 284.31 L194.68 283.07 L201.62 282.11 L209.22 281.37 L226.15 280.58 L252 280.4" fill="none" stroke="#8fe181" stroke-width="1.6" stroke-dasharray="1.28 3.84 5.12 3.84" stroke-linecap="round" stroke-linejoin="round"/>
<path d="M61.3 471.1 L61.87 462.69 L63.06 452.88 L64.73 442.91 L66.82 433.09 L69.26 423.56 L72.11 414.13 L75.32 404.96 L78.85 396.14 L82.74 387.55 L86.86 379.45 L91.33 371.58 L96.16 363.95 L101.27 356.67 L106.74 349.64 L112.48 342.97 L118.61 336.53 L124.88 330.57 L131.53 324.84 L138.59 319.36 L145.8 314.31 L153.43 309.51 L161.27 305.08 L169.36 301 L177.75 297.24 L186.57 293.76 L195.62 290.66 L204.93 287.91 L214.23 285.59 L224.01 283.59 L233.78 282.02 L243.56 280.91 L252 280.4" fill="none" stroke="#56bbf0" stroke-width="1.6" stroke-dasharray="1.28 3.84 5.12 3.84" stroke-linecap="round" stroke-linejoin="round"/>
<path d="M61.3 471.1 L61.75 470.54 L62.4 469.1 L64.17 463.85 L74.77 426.74 L81.66 404.73 L88.47 385.59 L95.49 368.41 L99.54 359.6 L103.72 351.31 L108.06 343.44 L112.42 336.29 L116.92 329.61 L121.57 323.41 L126.37 317.69 L131.21 312.55 L136.26 307.8 L141.48 303.5 L146.75 299.71 L152.35 296.23 L158.2 293.14 L164.16 290.49 L170.57 288.13 L177.27 286.13 L183.97 284.55 L191.1 283.25 L198.66 282.23 L206.84 281.45 L215.42 280.93 L225.2 280.6 L252 280.4" fill="none" stroke="#6ca3f0" stroke-width="1.6" stroke-dasharray="1.28 3.84 5.12 3.84" stroke-linecap="round" stroke-linejoin="round"/>
<path d="M61.3 471.1 L62.34 469.26 L64.08 464.52 L75.19 429.52 L82.55 408.24 L89.96 389.22 L97.58 372.05 L101.93 363.28 L106.31 355.13 L110.91 347.26 L115.48 340.1 L120.16 333.42 L125.06 327.06 L130.06 321.18 L135.17 315.78 L140.48 310.78 L145.87 306.25 L151.52 302.07 L157.22 298.38 L163.18 295.04 L169.17 292.16 L175.6 289.56 L182.28 287.31 L188.96 285.49 L196.11 283.95 L203.5 282.73 L211.37 281.79 L219.72 281.11 L228.78 280.68 L252 280.4" fill="none" stroke="#cb98f6" stroke-width="1.6" stroke-dasharray="1.28 3.84 5.12 3.84" stroke-linecap="round" stroke-linejoin="round"/>
<path d="M61.3 471.1 L62.19 463.66 L63.83 454.64 L66.01 445.25 L68.66 435.72 L71.66 426.42 L75.08 417.12 L78.83 408.06 L82.89 399.24 L87.15 390.89 L91.84 382.55 L96.81 374.48 L101.99 366.81 L107.44 359.42 L113.19 352.26 L119.25 345.35 L125.53 338.79 L131.97 332.62 L138.7 326.71 L145.68 321.11 L152.95 315.78 L160.35 310.86 L167.98 306.25 L175.85 301.95 L183.95 297.99 L192.3 294.36 L200.88 291.08 L209.46 288.24 L218.29 285.74 L227.17 283.67 L235.95 282.06 L244.53 280.92 L252 280.4" fill="none" stroke="#494949" stroke-width="1.6" stroke-dasharray="1.28 3.84 5.12 3.84" stroke-linecap="round" stroke-linejoin="round"/>
<path d="M61.3 471.1 L62.05 470.4 L63.01 468.52 L65.62 460.99 L77.9 416.88 L84.77 394.23 L90.72 376.9 L96.72 361.56 L100.49 352.98 L104.31 345.02 L108.25 337.59 L112.27 330.74 L116.43 324.37 L120.61 318.64 L125.06 313.24 L129.59 308.39 L134.36 303.94 L139.13 300.08 L144.13 296.59 L149.2 293.58 L154.62 290.88 L160.35 288.53 L166.55 286.48 L172.98 284.8 L179.39 283.52 L186.1 282.51 L193.49 281.71 L201.83 281.12 L220.62 280.52 L252 280.4" fill="none" stroke="#8feb73" stroke-width="1.6" stroke-dasharray="1.28 3.84 5.12 3.84" stroke-linecap="round" stroke-linejoin="round"/>
<path d="M61.3 471.1 L68.62 471.07 L69.72 470.9 L70.48 470.53 L71.33 469.54 L72.11 467.69 L73.37 461.71 L74.62 450.74 L75.85 434.29 L80.56 347.5 L81.76 328.9 L82.92 314.35 L84.32 301.48 L85.86 292.18 L86.68 288.84 L87.62 286.04 L88.58 284.07 L89.77 282.51 L91.19 281.45 L92.68 280.89 L94.78 280.55 L98.11 280.42 L252 280.4" fill="none" stroke="#f6ab70" stroke-width="1.6" stroke-dasharray="1.28 3.84 5.12 3.84" stroke-linecap="round" stroke-linejoin="round"/>
<rect x="53.67" y="272.77" width="205.96" height="205.96" fill="none" stroke="#8a8a8a" stroke-width="1.3"/>
<line x1="61.3" y1="478.73" x2="61.3" y2="483.33" stroke="#777" stroke-width="1.1" stroke-linecap="butt"/>
<text x="61.3" y="493.7" font-family='"Liberation Sans", sans-serif' font-size="7.2" text-anchor="middle" fill="#4a4a4a" stroke="#4a4a4a" stroke-width="0.25">0.0</text>
<line x1="53.67" y1="471.1" x2="49.07" y2="471.1" stroke="#777" stroke-width="1.1" stroke-linecap="butt"/>
<text x="0" y="0" font-family='"Liberation Sans", sans-serif' font-size="7.2" text-anchor="middle" fill="#4a4a4a" stroke="#4a4a4a" stroke-width="0.25" transform="translate(43.2 471.1) rotate(-90)">0.0</text>
<line x1="99.44" y1="478.73" x2="99.44" y2="483.33" stroke="#777" stroke-width="1.1" stroke-linecap="butt"/>
<text x="99.44" y="493.7" font-family='"Liberation Sans", sans-serif' font-size="7.2" text-anchor="middle" fill="#4a4a4a" stroke="#4a4a4a" stroke-width="0.25">0.2</text>
<line x1="53.67" y1="432.96" x2="49.07" y2="432.96" stroke="#777" stroke-width="1.1" stroke-linecap="butt"/>
<text x="0" y="0" font-family='"Liberation Sans", sans-serif' font-size="7.2" text-anchor="middle" fill="#4a4a4a" stroke="#4a4a4a" stroke-width="0.25" transform="translate(43.2 432.96) rotate(-90)">0.2</text>
<line x1="137.58" y1="478.73" x2="137.58" y2="483.33" stroke="#777" stroke-width="1.1" stroke-linecap="butt"/>
<text x="137.58" y="493.7" font-family='"Liberation Sans", sans-serif' font-size="7.2" text-anchor="middle" fill="#4a4a4a" stroke="#4a4a4a" stroke-width="0.25">0.4</text>
<line x1="53.67" y1="394.82" x2="49.07" y2="394.82" stroke="#777" stroke-width="1.1" stroke-linecap="butt"/>
<text x="0" y="0" font-family='"Liberation Sans", sans-serif' font-size="7.2" text-anchor="middle" fill="#4a4a4a" stroke="#4a4a4a" stroke-width="0.25" transform="translate(43.2 394.82) rotate(-90)">0.4</text>
<line x1="175.72" y1="478.73" x2="175.72" y2="483.33" stroke="#777" stroke-width="1.1" stroke-linecap="butt"/>
<text x="175.72" y="493.7" font-family='"Liberation Sans", sans-serif' font-size="7.2" text-anchor="middle" fill="#4a4a4a" stroke="#4a4a4a" stroke-width="0.25">0.6</text>
<line x1="53.67" y1="356.68" x2="49.07" y2="356.68" stroke="#777" stroke-width="1.1" stroke-linecap="butt"/>
<text x="0" y="0" font-family='"Liberation Sans", sans-serif' font-size="7.2" text-anchor="middle" fill="#4a4a4a" stroke="#4a4a4a" stroke-width="0.25" transform="translate(43.2 356.68) rotate(-90)">0.6</text>
<line x1="213.86" y1="478.73" x2="213.86" y2="483.33" stroke="#777" stroke-width="1.1" stroke-linecap="butt"/>
<text x="213.86" y="493.7" font-family='"Liberation Sans", sans-serif' font-size="7.2" text-anchor="middle" fill="#4a4a4a" stroke="#4a4a4a" stroke-width="0.25">0.8</text>
<line x1="53.67" y1="318.54" x2="49.07" y2="318.54" stroke="#777" stroke-width="1.1" stroke-linecap="butt"/>
<text x="0" y="0" font-family='"Liberation Sans", sans-serif' font-size="7.2" text-anchor="middle" fill="#4a4a4a" stroke="#4a4a4a" stroke-width="0.25" transform="translate(43.2 318.54) rotate(-90)">0.8</text>
<line x1="252" y1="478.73" x2="252" y2="483.33" stroke="#777" stroke-width="1.1" stroke-linecap="butt"/>
<text x="252" y="493.7" font-family='"Liberation Sans", sans-serif' font-size="7.2" text-anchor="middle" fill="#4a4a4a" stroke="#4a4a4a" stroke-width="0.25">1.0</text>
<line x1="53.67" y1="280.4" x2="49.07" y2="280.4" stroke="#777" stroke-width="1.1" stroke-linecap="butt"/>
<text x="0" y="0" font-family='"Liberation Sans", sans-serif' font-size="7.2" text-anchor="middle" fill="#4a4a4a" stroke="#4a4a4a" stroke-width="0.25" transform="translate(43.2 280.4) rotate(-90)">1.0</text>
<text x="0" y="0" font-family='"Liberation Sans", sans-serif' font-size="7.2" text-anchor="middle" fill="#333" stroke="#333" stroke-width="0.25" transform="translate(29.7 376.25) rotate(-90)">Sensitivity</text>
<text x="156.65" y="506.7" font-family='"Liberation Sans", sans-serif' font-size="7.2" text-anchor="middle" fill="#333" stroke="#333" stroke-width="0.25">1 - Specificity</text>
<text x="213.8" y="360.1" font-family='"Liberation Sans", sans-serif' font-size="9.2" text-anchor="middle" fill="#151515" stroke="#151515" stroke-width="0.18">PBMC</text>
<text x="213.8" y="370" font-family='"Liberation Sans", sans-serif' font-size="9.3" text-anchor="middle" fill="#151515" stroke="#151515" stroke-width="0.18">Adenoma vs Cancer</text>
<rect x="165" y="371.93" width="94.63" height="106.8" fill="#fff" stroke="#8a8a8a" stroke-width="1.1"/>
<line x1="171" y1="381.13" x2="182.8" y2="381.13" stroke="#a6a6f6" stroke-width="1.6" stroke-linecap="round"/>
<text x="188.5" y="383.53" font-family='"Liberation Sans", sans-serif' font-size="6.5" text-anchor="start" fill="#333" stroke="#333" stroke-width="0.15">HECW2-AUC:0.7234</text>
<line x1="171" y1="390.03" x2="182.8" y2="390.03" stroke="#f68888" stroke-width="1.6" stroke-dasharray="5.12 5.12" stroke-linecap="round"/>
<text x="188.5" y="392.43" font-family='"Liberation Sans", sans-serif' font-size="6.5" text-anchor="start" fill="#333" stroke="#333" stroke-width="0.15">WARS1-AUC:0.7356</text>
<line x1="171" y1="398.93" x2="182.8" y2="398.93" stroke="#f6b87f" stroke-width="1.6" stroke-dasharray="1.28 3.84" stroke-linecap="round"/>
<text x="188.5" y="401.33" font-family='"Liberation Sans", sans-serif' font-size="6.5" text-anchor="start" fill="#333" stroke="#333" stroke-width="0.15">SLC16A3-AUC:0.7904</text>
<line x1="171" y1="407.83" x2="182.8" y2="407.83" stroke="#f1e950" stroke-width="1.6" stroke-dasharray="1.28 3.84 5.12 3.84" stroke-linecap="round"/>
<text x="188.5" y="410.23" font-family='"Liberation Sans", sans-serif' font-size="6.5" text-anchor="start" fill="#333" stroke="#333" stroke-width="0.15">SECTM1-AUC:0.7896</text>
<line x1="171" y1="416.73" x2="182.8" y2="416.73" stroke="#8fe181" stroke-width="1.6" stroke-dasharray="8.96 3.84" stroke-linecap="round"/>
<text x="188.5" y="419.13" font-family='"Liberation Sans", sans-serif' font-size="6.5" text-anchor="start" fill="#333" stroke="#333" stroke-width="0.15">IFITM3-AUC:0.7688</text>
<line x1="171" y1="425.63" x2="182.8" y2="425.63" stroke="#56bbf0" stroke-width="1.6" stroke-dasharray="2.56 2.56 7.68 2.56" stroke-linecap="round"/>
<text x="188.5" y="428.03" font-family='"Liberation Sans", sans-serif' font-size="6.5" text-anchor="start" fill="#333" stroke="#333" stroke-width="0.15">ADAMTSL4-AUC:0.774</text>
<line x1="171" y1="434.53" x2="182.8" y2="434.53" stroke="#6ca3f0" stroke-width="1.6" stroke-linecap="round"/>
<text x="188.5" y="436.93" font-family='"Liberation Sans", sans-serif' font-size="6.5" text-anchor="start" fill="#333" stroke="#333" stroke-width="0.15">FCGR1A-AUC:0.793</text>
<line x1="171" y1="443.43" x2="182.8" y2="443.43" stroke="#cb98f6" stroke-width="1.6" stroke-dasharray="5.12 5.12" stroke-linecap="round"/>
<text x="188.5" y="445.83" font-family='"Liberation Sans", sans-serif' font-size="6.5" text-anchor="start" fill="#333" stroke="#333" stroke-width="0.15">F2RL1-AUC:0.7724</text>
<line x1="171" y1="452.33" x2="182.8" y2="452.33" stroke="#494949" stroke-width="1.6" stroke-dasharray="1.28 3.84" stroke-linecap="round"/>
<text x="188.5" y="454.73" font-family='"Liberation Sans", sans-serif' font-size="6.5" text-anchor="start" fill="#333" stroke="#333" stroke-width="0.15">OPLAH-AUC:0.7437</text>
<line x1="171" y1="461.23" x2="182.8" y2="461.23" stroke="#8feb73" stroke-width="1.6" stroke-dasharray="1.28 3.84 5.12 3.84" stroke-linecap="round"/>
<text x="188.5" y="463.63" font-family='"Liberation Sans", sans-serif' font-size="6.5" text-anchor="start" fill="#333" stroke="#333" stroke-width="0.15">SERPINA1-AUC:0.805</text>
<line x1="171" y1="470.13" x2="182.8" y2="470.13" stroke="#f6ab70" stroke-width="1.6" stroke-dasharray="8.96 3.84" stroke-linecap="round"/>
<text x="188.5" y="472.53" font-family='"Liberation Sans", sans-serif' font-size="6.5" text-anchor="start" fill="#333" stroke="#333" stroke-width="0.15">FCGR1CP-AUC:0.9054</text>
<line x1="320.8" y1="272.77" x2="320.8" y2="478.73" stroke="#9c9c9c" stroke-width="1" stroke-dasharray="1.3 0.9" stroke-linecap="butt"/>
<line x1="313.17" y1="471.1" x2="519.13" y2="471.1" stroke="#9c9c9c" stroke-width="1" stroke-dasharray="1.3 0.9" stroke-linecap="butt"/>
<line x1="358.94" y1="272.77" x2="358.94" y2="478.73" stroke="#9c9c9c" stroke-width="1" stroke-dasharray="1.3 0.9" stroke-linecap="butt"/>
<line x1="313.17" y1="432.96" x2="519.13" y2="432.96" stroke="#9c9c9c" stroke-width="1" stroke-dasharray="1.3 0.9" stroke-linecap="butt"/>
<line x1="397.08" y1="272.77" x2="397.08" y2="478.73" stroke="#9c9c9c" stroke-width="1" stroke-dasharray="1.3 0.9" stroke-linecap="butt"/>
<line x1="313.17" y1="394.82" x2="519.13" y2="394.82" stroke="#9c9c9c" stroke-width="1" stroke-dasharray="1.3 0.9" stroke-linecap="butt"/>
<line x1="435.22" y1="272.77" x2="435.22" y2="478.73" stroke="#9c9c9c" stroke-width="1" stroke-dasharray="1.3 0.9" stroke-linecap="butt"/>
<line x1="313.17" y1="356.68" x2="519.13" y2="356.68" stroke="#9c9c9c" stroke-width="1" stroke-dasharray="1.3 0.9" stroke-linecap="butt"/>
<line x1="473.36" y1="272.77" x2="473.36" y2="478.73" stroke="#9c9c9c" stroke-width="1" stroke-dasharray="1.3 0.9" stroke-linecap="butt"/>
<line x1="313.17" y1="318.54" x2="519.13" y2="318.54" stroke="#9c9c9c" stroke-width="1" stroke-dasharray="1.3 0.9" stroke-linecap="butt"/>
<line x1="511.5" y1="272.77" x2="511.5" y2="478.73" stroke="#9c9c9c" stroke-width="1" stroke-dasharray="1.3 0.9" stroke-linecap="butt"/>
<line x1="313.17" y1="280.4" x2="519.13" y2="280.4" stroke="#9c9c9c" stroke-width="1" stroke-dasharray="1.3 0.9" stroke-linecap="butt"/>
<line x1="313.17" y1="478.73" x2="519.13" y2="272.77" stroke="#d6d6d6" stroke-width="1.1" stroke-linecap="butt"/>
<path d="M320.8 471.1 L320.99 454.73 L321.44 438.58 L322.12 423.71 L323.04 409.82 L324.17 397.33 L325.55 385.65 L327.17 374.92 L329.07 364.9 L331.21 355.81 L333.69 347.26 L336.39 339.62 L339.46 332.47 L342.83 325.99 L346.54 320.08 L350.5 314.83 L354.99 309.89 L359.75 305.56 L364.85 301.72 L370.49 298.2 L376.45 295.15 L382.96 292.42 L390.04 290.02 L397.89 287.89 L406.25 286.1 L415.08 284.63 L424.85 283.4 L435.48 282.4 L447.27 281.62 L474.54 280.68 L511.5 280.4" fill="none" stroke="#a6a6f6" stroke-width="1.6" stroke-linecap="round" stroke-linejoin="round"/>
<path d="M320.8 471.1 L320.93 439.53 L321.56 420.46 L322.17 412.11 L323 404.48 L324.08 397.35 L325.39 390.89 L327.09 384.36 L329.11 378.25 L331.55 372.29 L334.27 366.8 L337.41 361.5 L341.02 356.32 L344.98 351.44 L349.34 346.78 L354.28 342.16 L359.76 337.65 L365.72 333.32 L372.36 329.03 L379.31 325 L386.94 321.02 L395.05 317.2 L403.87 313.41 L420.56 307.09 L439.16 300.99 L462.05 294.41 L502.82 283.74 L509.2 281.71 L510.88 280.95 L511.5 280.4" fill="none" stroke="#f68888" stroke-width="1.6" stroke-dasharray="5.12 5.12" stroke-linecap="round" stroke-linejoin="round"/>
<path d="M320.8 471.1 L322.42 464.6 L324.99 456.46 L328.12 447.86 L331.81 438.82 L335.77 429.99 L340.08 421.17 L344.74 412.37 L349.65 403.77 L354.75 395.42 L360.06 387.31 L365.72 379.22 L371.44 371.56 L377.4 364.07 L383.6 356.77 L390.04 349.67 L396.53 342.97 L403.18 336.53 L410.03 330.33 L416.98 324.46 L424.08 318.88 L431.27 313.64 L438.44 308.8 L445.84 304.19 L453.27 299.96 L460.91 295.99 L468.58 292.42 L476.12 289.29 L483.75 286.52 L491.38 284.17 L498.74 282.32 L505.79 281 L511.5 280.4" fill="none" stroke="#f6b87f" stroke-width="1.6" stroke-dasharray="1.28 3.84" stroke-linecap="round" stroke-linejoin="round"/>
<path d="M320.8 471.1 L320.82 422.36 L321.01 402.57 L321.61 387.31 L322.76 375.63 L323.72 369.91 L324.95 364.62 L326.49 359.66 L328.32 355.13 L330.5 350.83 L333.06 346.78 L335.98 342.97 L339.26 339.39 L343.13 335.81 L347.6 332.3 L352.61 328.93 L358.09 325.72 L364.05 322.67 L370.83 319.6 L378.12 316.66 L386.07 313.79 L394.57 311.02 L403.63 308.32 L424.14 302.94 L445.36 298.06 L486.25 289.32 L499.01 286.26 L504.76 284.59 L508.72 283.07 L510.88 281.72 L511.36 281.08 L511.5 280.4" fill="none" stroke="#f1e950" stroke-width="1.6" stroke-dasharray="1.28 3.84 5.12 3.84" stroke-linecap="round" stroke-linejoin="round"/>
<path d="M320.8 471.1 L321.01 461.94 L321.61 452.75 L322.56 443.91 L323.89 435.24 L325.56 426.89 L327.6 418.79 L329.99 410.92 L332.82 403.07 L335.93 395.66 L339.47 388.34 L343.31 381.35 L347.61 374.44 L352.26 367.76 L357.27 361.3 L362.62 355.09 L368.49 348.93 L374.78 342.94 L381.46 337.16 L388.61 331.53 L396 326.22 L403.77 321.11 L411.98 316.18 L420.56 311.46 L429.62 306.92 L439.16 302.55 L448.93 298.48 L458.95 294.69 L469.45 291.1 L480.17 287.82 L490.91 284.89 L501.63 282.35 L511.5 280.4" fill="none" stroke="#8fe181" stroke-width="1.6" stroke-dasharray="1.28 3.84 5.12 3.84" stroke-linecap="round" stroke-linejoin="round"/>
<path d="M320.8 471.1 L320.84 410.68 L321.05 381.59 L321.63 360.37 L322.69 344.67 L323.54 337.48 L324.59 331.28 L325.93 325.58 L327.52 320.55 L329.39 316.11 L331.61 312.03 L334.17 308.39 L337.11 305.11 L341.01 301.72 L345.45 298.72 L350.46 296.08 L356.31 293.66 L362.86 291.52 L370.25 289.62 L378.6 287.93 L387.85 286.46 L398.39 285.14 L410.07 284 L422.95 283.04 L437.49 282.21 L471.59 281 L511.5 280.4" fill="none" stroke="#56bbf0" stroke-width="1.6" stroke-dasharray="1.28 3.84 5.12 3.84" stroke-linecap="round" stroke-linejoin="round"/>
<path d="M320.8 471.1 L320.9 440.89 L321.44 423.32 L321.99 415.61 L322.73 408.68 L323.7 402.34 L324.92 396.32 L326.51 390.29 L328.42 384.58 L330.67 379.15 L333.29 373.94 L336.28 368.95 L339.64 364.19 L343.44 359.54 L347.6 355.09 L352.13 350.83 L356.97 346.78 L362.32 342.76 L368.11 338.85 L374.3 335.04 L381 331.28 L388.37 327.49 L396.14 323.81 L412.69 316.79 L431.77 309.68 L451.12 303.15 L487.8 291.46 L499.41 287.42 L504.76 285.26 L508.51 283.39 L510.75 281.78 L511.31 281.06 L511.5 280.4" fill="none" stroke="#cb98f6" stroke-width="1.6" stroke-dasharray="1.28 3.84 5.12 3.84" stroke-linecap="round" stroke-linejoin="round"/>
<path d="M320.8 471.1 L320.97 457.95 L321.71 448.4 L323.22 439.77 L324.31 435.61 L325.6 431.68 L327.22 427.61 L329.05 423.72 L331.21 419.78 L333.64 415.93 L336.31 412.16 L339.25 408.42 L346.17 400.87 L353.86 393.75 L362.85 386.49 L372.99 379.21 L384.71 371.58 L396 364.77 L408.88 357.44 L451.8 334.28 L466.1 326.31 L479.45 318.31 L489.95 311.22 L495.43 307 L499.96 303.04 L503.73 299.17 L506.7 295.43 L508.91 291.8 L510.44 288.13 L511.27 284.48 L511.5 280.4" fill="none" stroke="#494949" stroke-width="1.6" stroke-dasharray="1.28 3.84 5.12 3.84" stroke-linecap="round" stroke-linejoin="round"/>
<path d="M320.8 471.1 L321.66 467.11 L327.57 432.73 L332.33 409.49 L335.14 397.57 L338.03 386.6 L341.06 376.23 L344.26 366.42 L347.7 357.03 L351.3 348.31 L355.14 340.1 L359.06 332.71 L363.24 325.8 L367.53 319.6 L372.1 313.88 L376.93 308.66 L381.59 304.34 L386.46 300.45 L391.71 296.91 L397.19 293.79 L402.92 291.09 L409.12 288.7 L415.79 286.65 L422.89 284.94 L430.1 283.62 L437.73 282.57 L446.07 281.76 L455.37 281.16 L476.59 280.53 L511.5 280.4" fill="none" stroke="#8feb73" stroke-width="1.6" stroke-dasharray="1.28 3.84 5.12 3.84" stroke-linecap="round" stroke-linejoin="round"/>
<rect x="313.17" y="272.77" width="205.96" height="205.96" fill="none" stroke="#8a8a8a" stroke-width="1.3"/>
<line x1="320.8" y1="478.73" x2="320.8" y2="483.33" stroke="#777" stroke-width="1.1" stroke-linecap="butt"/>
<text x="320.8" y="493.7" font-family='"Liberation Sans", sans-serif' font-size="7.2" text-anchor="middle" fill="#4a4a4a" stroke="#4a4a4a" stroke-width="0.25">0.0</text>
<line x1="313.17" y1="471.1" x2="308.57" y2="471.1" stroke="#777" stroke-width="1.1" stroke-linecap="butt"/>
<text x="0" y="0" font-family='"Liberation Sans", sans-serif' font-size="7.2" text-anchor="middle" fill="#4a4a4a" stroke="#4a4a4a" stroke-width="0.25" transform="translate(302.7 471.1) rotate(-90)">0.0</text>
<line x1="358.94" y1="478.73" x2="358.94" y2="483.33" stroke="#777" stroke-width="1.1" stroke-linecap="butt"/>
<text x="358.94" y="493.7" font-family='"Liberation Sans", sans-serif' font-size="7.2" text-anchor="middle" fill="#4a4a4a" stroke="#4a4a4a" stroke-width="0.25">0.2</text>
<line x1="313.17" y1="432.96" x2="308.57" y2="432.96" stroke="#777" stroke-width="1.1" stroke-linecap="butt"/>
<text x="0" y="0" font-family='"Liberation Sans", sans-serif' font-size="7.2" text-anchor="middle" fill="#4a4a4a" stroke="#4a4a4a" stroke-width="0.25" transform="translate(302.7 432.96) rotate(-90)">0.2</text>
<line x1="397.08" y1="478.73" x2="397.08" y2="483.33" stroke="#777" stroke-width="1.1" stroke-linecap="butt"/>
<text x="397.08" y="493.7" font-family='"Liberation Sans", sans-serif' font-size="7.2" text-anchor="middle" fill="#4a4a4a" stroke="#4a4a4a" stroke-width="0.25">0.4</text>
<line x1="313.17" y1="394.82" x2="308.57" y2="394.82" stroke="#777" stroke-width="1.1" stroke-linecap="butt"/>
<text x="0" y="0" font-family='"Liberation Sans", sans-serif' font-size="7.2" text-anchor="middle" fill="#4a4a4a" stroke="#4a4a4a" stroke-width="0.25" transform="translate(302.7 394.82) rotate(-90)">0.4</text>
<line x1="435.22" y1="478.73" x2="435.22" y2="483.33" stroke="#777" stroke-width="1.1" stroke-linecap="butt"/>
<text x="435.22" y="493.7" font-family='"Liberation Sans", sans-serif' font-size="7.2" text-anchor="middle" fill="#4a4a4a" stroke="#4a4a4a" stroke-width="0.25">0.6</text>
<line x1="313.17" y1="356.68" x2="308.57" y2="356.68" stroke="#777" stroke-width="1.1" stroke-linecap="butt"/>
<text x="0" y="0" font-family='"Liberation Sans", sans-serif' font-size="7.2" text-anchor="middle" fill="#4a4a4a" stroke="#4a4a4a" stroke-width="0.25" transform="translate(302.7 356.68) rotate(-90)">0.6</text>
<line x1="473.36" y1="478.73" x2="473.36" y2="483.33" stroke="#777" stroke-width="1.1" stroke-linecap="butt"/>
<text x="473.36" y="493.7" font-family='"Liberation Sans", sans-serif' font-size="7.2" text-anchor="middle" fill="#4a4a4a" stroke="#4a4a4a" stroke-width="0.25">0.8</text>
<line x1="313.17" y1="318.54" x2="308.57" y2="318.54" stroke="#777" stroke-width="1.1" stroke-linecap="butt"/>
<text x="0" y="0" font-family='"Liberation Sans", sans-serif' font-size="7.2" text-anchor="middle" fill="#4a4a4a" stroke="#4a4a4a" stroke-width="0.25" transform="translate(302.7 318.54) rotate(-90)">0.8</text>
<line x1="511.5" y1="478.73" x2="511.5" y2="483.33" stroke="#777" stroke-width="1.1" stroke-linecap="butt"/>
<text x="511.5" y="493.7" font-family='"Liberation Sans", sans-serif' font-size="7.2" text-anchor="middle" fill="#4a4a4a" stroke="#4a4a4a" stroke-width="0.25">1.0</text>
<line x1="313.17" y1="280.4" x2="308.57" y2="280.4" stroke="#777" stroke-width="1.1" stroke-linecap="butt"/>
<text x="0" y="0" font-family='"Liberation Sans", sans-serif' font-size="7.2" text-anchor="middle" fill="#4a4a4a" stroke="#4a4a4a" stroke-width="0.25" transform="translate(302.7 280.4) rotate(-90)">1.0</text>
<text x="0" y="0" font-family='"Liberation Sans", sans-serif' font-size="7.2" text-anchor="middle" fill="#333" stroke="#333" stroke-width="0.25" transform="translate(289.2 376.25) rotate(-90)">Sensitivity</text>
<text x="416.15" y="506.7" font-family='"Liberation Sans", sans-serif' font-size="7.2" text-anchor="middle" fill="#333" stroke="#333" stroke-width="0.25">1 - Specificity</text>
<text x="473.3" y="360.1" font-family='"Liberation Sans", sans-serif' font-size="9.2" text-anchor="middle" fill="#151515" stroke="#151515" stroke-width="0.18">GSE20916</text>
<text x="473.3" y="370" font-family='"Liberation Sans", sans-serif' font-size="9.3" text-anchor="middle" fill="#151515" stroke="#151515" stroke-width="0.18">Adenoma vs Cancer</text>
<rect x="423.3" y="389.73" width="95.83" height="89" fill="#fff" stroke="#8a8a8a" stroke-width="1.1"/>
<line x1="429.3" y1="398.93" x2="441.1" y2="398.93" stroke="#a6a6f6" stroke-width="1.6" stroke-linecap="round"/>
<text x="446.8" y="401.33" font-family='"Liberation Sans", sans-serif' font-size="6.5" text-anchor="start" fill="#333" stroke="#333" stroke-width="0.15">HECW2-AUC:0.9136</text>
<line x1="429.3" y1="407.83" x2="441.1" y2="407.83" stroke="#f68888" stroke-width="1.6" stroke-dasharray="5.12 5.12" stroke-linecap="round"/>
<text x="446.8" y="410.23" font-family='"Liberation Sans", sans-serif' font-size="6.5" text-anchor="start" fill="#333" stroke="#333" stroke-width="0.15">WARS1-AUC:0.8115</text>
<line x1="429.3" y1="416.73" x2="441.1" y2="416.73" stroke="#f6b87f" stroke-width="1.6" stroke-dasharray="1.28 3.84" stroke-linecap="round"/>
<text x="446.8" y="419.13" font-family='"Liberation Sans", sans-serif' font-size="6.5" text-anchor="start" fill="#333" stroke="#333" stroke-width="0.15">SLC16A3-AUC:0.6896</text>
<line x1="429.3" y1="425.63" x2="441.1" y2="425.63" stroke="#f1e950" stroke-width="1.6" stroke-dasharray="1.28 3.84 5.12 3.84" stroke-linecap="round"/>
<text x="446.8" y="428.03" font-family='"Liberation Sans", sans-serif' font-size="6.5" text-anchor="start" fill="#333" stroke="#333" stroke-width="0.15">SECTM1-AUC:0.8456</text>
<line x1="429.3" y1="434.53" x2="441.1" y2="434.53" stroke="#8fe181" stroke-width="1.6" stroke-dasharray="8.96 3.84" stroke-linecap="round"/>
<text x="446.8" y="436.93" font-family='"Liberation Sans", sans-serif' font-size="6.5" text-anchor="start" fill="#333" stroke="#333" stroke-width="0.15">IFITM3-AUC:0.7615</text>
<line x1="429.3" y1="443.43" x2="441.1" y2="443.43" stroke="#56bbf0" stroke-width="1.6" stroke-dasharray="2.56 2.56 7.68 2.56" stroke-linecap="round"/>
<text x="446.8" y="445.83" font-family='"Liberation Sans", sans-serif' font-size="6.5" text-anchor="start" fill="#333" stroke="#333" stroke-width="0.15">FCGR1A-AUC:0.9573</text>
<line x1="429.3" y1="452.33" x2="441.1" y2="452.33" stroke="#6ca3f0" stroke-width="1.6" stroke-linecap="round"/>
<text x="446.8" y="454.73" font-family='"Liberation Sans", sans-serif' font-size="6.5" text-anchor="start" fill="#333" stroke="#333" stroke-width="0.15">F2RL1-AUC:0.7821</text>
<line x1="429.3" y1="461.23" x2="441.1" y2="461.23" stroke="#cb98f6" stroke-width="1.6" stroke-dasharray="5.12 5.12" stroke-linecap="round"/>
<text x="446.8" y="463.63" font-family='"Liberation Sans", sans-serif' font-size="6.5" text-anchor="start" fill="#333" stroke="#333" stroke-width="0.15">OPLAH-AUC:0.602</text>
<line x1="429.3" y1="470.13" x2="441.1" y2="470.13" stroke="#494949" stroke-width="1.6" stroke-dasharray="1.28 3.84" stroke-linecap="round"/>
<text x="446.8" y="472.53" font-family='"Liberation Sans", sans-serif' font-size="6.5" text-anchor="start" fill="#333" stroke="#333" stroke-width="0.15">SERPINA1-AUC:0.8488</text>
<line x1="579.5" y1="271.37" x2="579.5" y2="477.33" stroke="#9c9c9c" stroke-width="1" stroke-dasharray="1.3 0.9" stroke-linecap="butt"/>
<line x1="571.87" y1="469.7" x2="777.83" y2="469.7" stroke="#9c9c9c" stroke-width="1" stroke-dasharray="1.3 0.9" stroke-linecap="butt"/>
<line x1="617.64" y1="271.37" x2="617.64" y2="477.33" stroke="#9c9c9c" stroke-width="1" stroke-dasharray="1.3 0.9" stroke-linecap="butt"/>
<line x1="571.87" y1="431.56" x2="777.83" y2="431.56" stroke="#9c9c9c" stroke-width="1" stroke-dasharray="1.3 0.9" stroke-linecap="butt"/>
<line x1="655.78" y1="271.37" x2="655.78" y2="477.33" stroke="#9c9c9c" stroke-width="1" stroke-dasharray="1.3 0.9" stroke-linecap="butt"/>
<line x1="571.87" y1="393.42" x2="777.83" y2="393.42" stroke="#9c9c9c" stroke-width="1" stroke-dasharray="1.3 0.9" stroke-linecap="butt"/>
<line x1="693.92" y1="271.37" x2="693.92" y2="477.33" stroke="#9c9c9c" stroke-width="1" stroke-dasharray="1.3 0.9" stroke-linecap="butt"/>
<line x1="571.87" y1="355.28" x2="777.83" y2="355.28" stroke="#9c9c9c" stroke-width="1" stroke-dasharray="1.3 0.9" stroke-linecap="butt"/>
<line x1="732.06" y1="271.37" x2="732.06" y2="477.33" stroke="#9c9c9c" stroke-width="1" stroke-dasharray="1.3 0.9" stroke-linecap="butt"/>
<line x1="571.87" y1="317.14" x2="777.83" y2="317.14" stroke="#9c9c9c" stroke-width="1" stroke-dasharray="1.3 0.9" stroke-linecap="butt"/>
<line x1="770.2" y1="271.37" x2="770.2" y2="477.33" stroke="#9c9c9c" stroke-width="1" stroke-dasharray="1.3 0.9" stroke-linecap="butt"/>
<line x1="571.87" y1="279" x2="777.83" y2="279" stroke="#9c9c9c" stroke-width="1" stroke-dasharray="1.3 0.9" stroke-linecap="butt"/>
<line x1="571.87" y1="477.33" x2="777.83" y2="271.37" stroke="#d6d6d6" stroke-width="1.1" stroke-linecap="butt"/>
<path d="M579.5 469.7 L580.93 466.9 L583.48 462.69 L590.5 452.44 L599.33 440.75 L609.57 428.13 L620.84 415 L632.87 401.65 L645.88 387.84 L659.46 373.99 L673.56 360.16 L688.08 346.45 L702.87 333 L717.61 320.11 L732.43 307.66 L746.85 296.1 L760.14 286.01 L770.2 279" fill="none" stroke="#a6a6f6" stroke-width="1.6" stroke-linecap="round" stroke-linejoin="round"/>
<path d="M579.5 469.7 L582.42 464.31 L586.47 457.44 L596.11 442.4 L607.07 426.67 L619.03 410.71 L631.34 395.34 L644.24 380.19 L657.56 365.52 L671.15 351.47 L684.84 338.23 L698.57 325.85 L712.17 314.49 L725.46 304.29 L738.63 295.16 L750.88 287.68 L756.73 284.52 L762.06 281.96 L766.84 280 L770.2 279" fill="none" stroke="#f68888" stroke-width="1.6" stroke-dasharray="5.12 5.12" stroke-linecap="round" stroke-linejoin="round"/>
<path d="M579.5 469.7 L581.12 463.94 L583.76 456.49 L587.04 448.38 L590.8 440 L594.88 431.69 L599.43 423.11 L604.33 414.53 L609.42 406.18 L614.69 398.07 L620.29 389.97 L626.05 382.1 L631.96 374.47 L638.02 367.08 L644.44 359.69 L650.89 352.66 L657.56 345.79 L664.24 339.3 L671.15 332.96 L678.3 326.78 L685.35 321.06 L692.61 315.52 L699.9 310.33 L707.16 305.51 L714.55 300.94 L722.12 296.64 L729.57 292.76 L737.03 289.25 L744.35 286.17 L751.75 283.45 L758.66 281.32 L765.1 279.77 L770.2 279" fill="none" stroke="#f6b87f" stroke-width="1.6" stroke-dasharray="1.28 3.84" stroke-linecap="round" stroke-linejoin="round"/>
<path d="M579.5 469.7 L579.93 460.31 L580.88 449.81 L582.27 439.32 L584.05 429.07 L586.15 419.29 L588.66 409.67 L591.52 400.35 L594.72 391.4 L598.19 382.95 L602.06 374.71 L606.27 366.81 L610.83 359.21 L615.66 352.06 L620.84 345.21 L626.35 338.7 L632.21 332.5 L638.36 326.68 L644.93 321.12 L651.84 315.88 L658.99 311.04 L666.62 306.44 L674.52 302.22 L682.84 298.29 L691.42 294.73 L700.48 291.45 L709.78 288.56 L719.56 285.97 L729.57 283.76 L739.82 281.93 L750.31 280.48 L760.81 279.47 L770.2 279" fill="none" stroke="#f1e950" stroke-width="1.6" stroke-dasharray="1.28 3.84 5.12 3.84" stroke-linecap="round" stroke-linejoin="round"/>
<path d="M579.5 469.7 L579.95 461.2 L580.97 451.48 L582.44 441.71 L584.35 431.93 L586.59 422.63 L589.26 413.33 L592.26 404.4 L595.64 395.69 L599.34 387.34 L603.39 379.24 L607.73 371.51 L612.46 363.98 L617.46 356.83 L622.83 349.91 L628.47 343.35 L634.48 337.03 L640.87 330.95 L647.55 325.21 L654.46 319.83 L661.88 314.62 L669.53 309.79 L677.59 305.2 L685.94 300.96 L694.52 297.07 L703.58 293.43 L712.88 290.17 L722.42 287.26 L731.96 284.78 L741.97 282.61 L751.98 280.87 L761.78 279.62 L770.2 279" fill="none" stroke="#8fe181" stroke-width="1.6" stroke-dasharray="1.28 3.84 5.12 3.84" stroke-linecap="round" stroke-linejoin="round"/>
<path d="M579.5 469.7 L581.12 464 L583.8 456.49 L587.11 448.38 L590.94 439.94 L595.09 431.53 L599.59 423.11 L604.39 414.73 L609.57 406.28 L614.88 398.13 L620.37 390.21 L626.09 382.4 L632.06 374.71 L638.25 367.17 L644.54 359.92 L651.11 352.77 L657.8 345.89 L664.58 339.3 L671.47 332.98 L678.55 326.86 L685.69 321.06 L692.87 315.58 L700.22 310.33 L707.53 305.47 L714.79 300.98 L722.42 296.62 L729.81 292.76 L737.2 289.27 L744.59 286.14 L751.83 283.47 L758.76 281.32 L765.18 279.76 L770.2 279" fill="none" stroke="#494949" stroke-width="1.6" stroke-dasharray="1.28 3.84 5.12 3.84" stroke-linecap="round" stroke-linejoin="round"/>
<path d="M579.5 469.7 L581.85 462.03 L585.01 453.15 L588.66 443.91 L592.69 434.55 L597 425.34 L601.61 416.2 L606.5 407.13 L611.59 398.31 L616.79 389.89 L622.28 381.54 L627.9 373.52 L633.72 365.71 L639.68 358.21 L645.88 350.9 L652.11 344.02 L658.52 337.39 L665.05 331.07 L671.65 325.12 L678.31 319.53 L685.23 314.15 L692.19 309.14 L699.29 304.44 L706.44 300.12 L713.46 296.26 L720.75 292.65 L728.15 289.39 L735.53 286.53 L742.87 284.1 L750.27 282.07 L757.36 280.53 L764.25 279.46 L770.2 279" fill="none" stroke="#cb98f6" stroke-width="1.6" stroke-dasharray="1.28 3.84 5.12 3.84" stroke-linecap="round" stroke-linejoin="round"/>
<path d="M579.5 469.7 L579.6 454.16 L579.92 440.78 L580.48 428.59 L581.29 417.39 L582.37 406.9 L583.74 397.12 L585.38 388.06 L587.34 379.48 L589.7 371.13 L592.34 363.5 L595.33 356.29 L598.72 349.43 L602.49 342.97 L606.67 336.89 L611.31 331.09 L616.19 325.83 L621.8 320.62 L627.8 315.81 L634.44 311.22 L641.52 306.99 L649.22 303.02 L657.33 299.42 L665.99 296.1 L675.21 293.06 L685.12 290.27 L695.71 287.75 L706.92 285.52 L718.84 283.56 L731.48 281.88 L744.59 280.53 L758.11 279.53 L770.2 279" fill="none" stroke="#8feb73" stroke-width="1.6" stroke-dasharray="1.28 3.84 5.12 3.84" stroke-linecap="round" stroke-linejoin="round"/>
<rect x="571.87" y="271.37" width="205.96" height="205.96" fill="none" stroke="#8a8a8a" stroke-width="1.3"/>
<line x1="579.5" y1="477.33" x2="579.5" y2="481.93" stroke="#777" stroke-width="1.1" stroke-linecap="butt"/>
<text x="579.5" y="492.3" font-family='"Liberation Sans", sans-serif' font-size="7.2" text-anchor="middle" fill="#4a4a4a" stroke="#4a4a4a" stroke-width="0.25">0.0</text>
<line x1="571.87" y1="469.7" x2="567.27" y2="469.7" stroke="#777" stroke-width="1.1" stroke-linecap="butt"/>
<text x="0" y="0" font-family='"Liberation Sans", sans-serif' font-size="7.2" text-anchor="middle" fill="#4a4a4a" stroke="#4a4a4a" stroke-width="0.25" transform="translate(561.4 469.7) rotate(-90)">0.0</text>
<line x1="617.64" y1="477.33" x2="617.64" y2="481.93" stroke="#777" stroke-width="1.1" stroke-linecap="butt"/>
<text x="617.64" y="492.3" font-family='"Liberation Sans", sans-serif' font-size="7.2" text-anchor="middle" fill="#4a4a4a" stroke="#4a4a4a" stroke-width="0.25">0.2</text>
<line x1="571.87" y1="431.56" x2="567.27" y2="431.56" stroke="#777" stroke-width="1.1" stroke-linecap="butt"/>
<text x="0" y="0" font-family='"Liberation Sans", sans-serif' font-size="7.2" text-anchor="middle" fill="#4a4a4a" stroke="#4a4a4a" stroke-width="0.25" transform="translate(561.4 431.56) rotate(-90)">0.2</text>
<line x1="655.78" y1="477.33" x2="655.78" y2="481.93" stroke="#777" stroke-width="1.1" stroke-linecap="butt"/>
<text x="655.78" y="492.3" font-family='"Liberation Sans", sans-serif' font-size="7.2" text-anchor="middle" fill="#4a4a4a" stroke="#4a4a4a" stroke-width="0.25">0.4</text>
<line x1="571.87" y1="393.42" x2="567.27" y2="393.42" stroke="#777" stroke-width="1.1" stroke-linecap="butt"/>
<text x="0" y="0" font-family='"Liberation Sans", sans-serif' font-size="7.2" text-anchor="middle" fill="#4a4a4a" stroke="#4a4a4a" stroke-width="0.25" transform="translate(561.4 393.42) rotate(-90)">0.4</text>
<line x1="693.92" y1="477.33" x2="693.92" y2="481.93" stroke="#777" stroke-width="1.1" stroke-linecap="butt"/>
<text x="693.92" y="492.3" font-family='"Liberation Sans", sans-serif' font-size="7.2" text-anchor="middle" fill="#4a4a4a" stroke="#4a4a4a" stroke-width="0.25">0.6</text>
<line x1="571.87" y1="355.28" x2="567.27" y2="355.28" stroke="#777" stroke-width="1.1" stroke-linecap="butt"/>
<text x="0" y="0" font-family='"Liberation Sans", sans-serif' font-size="7.2" text-anchor="middle" fill="#4a4a4a" stroke="#4a4a4a" stroke-width="0.25" transform="translate(561.4 355.28) rotate(-90)">0.6</text>
<line x1="732.06" y1="477.33" x2="732.06" y2="481.93" stroke="#777" stroke-width="1.1" stroke-linecap="butt"/>
<text x="732.06" y="492.3" font-family='"Liberation Sans", sans-serif' font-size="7.2" text-anchor="middle" fill="#4a4a4a" stroke="#4a4a4a" stroke-width="0.25">0.8</text>
<line x1="571.87" y1="317.14" x2="567.27" y2="317.14" stroke="#777" stroke-width="1.1" stroke-linecap="butt"/>
<text x="0" y="0" font-family='"Liberation Sans", sans-serif' font-size="7.2" text-anchor="middle" fill="#4a4a4a" stroke="#4a4a4a" stroke-width="0.25" transform="translate(561.4 317.14) rotate(-90)">0.8</text>
<line x1="770.2" y1="477.33" x2="770.2" y2="481.93" stroke="#777" stroke-width="1.1" stroke-linecap="butt"/>
<text x="770.2" y="492.3" font-family='"Liberation Sans", sans-serif' font-size="7.2" text-anchor="middle" fill="#4a4a4a" stroke="#4a4a4a" stroke-width="0.25">1.0</text>
<line x1="571.87" y1="279" x2="567.27" y2="279" stroke="#777" stroke-width="1.1" stroke-linecap="butt"/>
<text x="0" y="0" font-family='"Liberation Sans", sans-serif' font-size="7.2" text-anchor="middle" fill="#4a4a4a" stroke="#4a4a4a" stroke-width="0.25" transform="translate(561.4 279) rotate(-90)">1.0</text>
<text x="0" y="0" font-family='"Liberation Sans", sans-serif' font-size="7.2" text-anchor="middle" fill="#333" stroke="#333" stroke-width="0.25" transform="translate(547.9 374.85) rotate(-90)">Sensitivity</text>
<text x="674.85" y="505.3" font-family='"Liberation Sans", sans-serif' font-size="7.2" text-anchor="middle" fill="#333" stroke="#333" stroke-width="0.25">1 - Specificity</text>
<text x="732" y="358.7" font-family='"Liberation Sans", sans-serif' font-size="9.2" text-anchor="middle" fill="#151515" stroke="#151515" stroke-width="0.18">GSE117606</text>
<text x="732" y="368.6" font-family='"Liberation Sans", sans-serif' font-size="9.3" text-anchor="middle" fill="#151515" stroke="#151515" stroke-width="0.18">Adenoma vs Cancer</text>
<rect x="679.3" y="397.23" width="98.53" height="80.1" fill="#fff" stroke="#8a8a8a" stroke-width="1.1"/>
<line x1="685.3" y1="406.43" x2="697.1" y2="406.43" stroke="#a6a6f6" stroke-width="1.6" stroke-linecap="round"/>
<text x="702.8" y="408.83" font-family='"Liberation Sans", sans-serif' font-size="6.5" text-anchor="start" fill="#333" stroke="#333" stroke-width="0.15">HECW2-AUC:0.558</text>
<line x1="685.3" y1="415.33" x2="697.1" y2="415.33" stroke="#f68888" stroke-width="1.6" stroke-dasharray="5.12 5.12" stroke-linecap="round"/>
<text x="702.8" y="417.73" font-family='"Liberation Sans", sans-serif' font-size="6.5" text-anchor="start" fill="#333" stroke="#333" stroke-width="0.15">WARS1-AUC:0.5972</text>
<line x1="685.3" y1="424.23" x2="697.1" y2="424.23" stroke="#f6b87f" stroke-width="1.6" stroke-dasharray="1.28 3.84" stroke-linecap="round"/>
<text x="702.8" y="426.63" font-family='"Liberation Sans", sans-serif' font-size="6.5" text-anchor="start" fill="#333" stroke="#333" stroke-width="0.15">SLC16A3-AUC:0.6669</text>
<line x1="685.3" y1="433.13" x2="697.1" y2="433.13" stroke="#f1e950" stroke-width="1.6" stroke-dasharray="1.28 3.84 5.12 3.84" stroke-linecap="round"/>
<text x="702.8" y="435.53" font-family='"Liberation Sans", sans-serif' font-size="6.5" text-anchor="start" fill="#333" stroke="#333" stroke-width="0.15">SECTM1-AUC:0.7969</text>
<line x1="685.3" y1="442.03" x2="697.1" y2="442.03" stroke="#8fe181" stroke-width="1.6" stroke-dasharray="8.96 3.84" stroke-linecap="round"/>
<text x="702.8" y="444.43" font-family='"Liberation Sans", sans-serif' font-size="6.5" text-anchor="start" fill="#333" stroke="#333" stroke-width="0.15">ADAMTSL4-AUC:0.7753</text>
<line x1="685.3" y1="450.93" x2="697.1" y2="450.93" stroke="#56bbf0" stroke-width="1.6" stroke-dasharray="2.56 2.56 7.68 2.56" stroke-linecap="round"/>
<text x="702.8" y="453.33" font-family='"Liberation Sans", sans-serif' font-size="6.5" text-anchor="start" fill="#333" stroke="#333" stroke-width="0.15">F2RL1-AUC:0.6914</text>
<line x1="685.3" y1="459.83" x2="697.1" y2="459.83" stroke="#6ca3f0" stroke-width="1.6" stroke-linecap="round"/>
<text x="702.8" y="462.23" font-family='"Liberation Sans", sans-serif' font-size="6.5" text-anchor="start" fill="#333" stroke="#333" stroke-width="0.15">OPLAH-AUC:0.6657</text>
<line x1="685.3" y1="468.73" x2="697.1" y2="468.73" stroke="#cb98f6" stroke-width="1.6" stroke-dasharray="5.12 5.12" stroke-linecap="round"/>
<text x="702.8" y="471.13" font-family='"Liberation Sans", sans-serif' font-size="6.5" text-anchor="start" fill="#333" stroke="#333" stroke-width="0.15">SERPINA1-AUC:0.8621</text>
<line x1="90.9" y1="745.1" x2="90.9" y2="545.5" stroke="#e3e3e3" stroke-width="0.9" stroke-linecap="butt"/>
<line x1="50.8" y1="705.18" x2="251.3" y2="705.18" stroke="#e3e3e3" stroke-width="0.9" stroke-linecap="butt"/>
<line x1="131" y1="745.1" x2="131" y2="545.5" stroke="#e3e3e3" stroke-width="0.9" stroke-linecap="butt"/>
<line x1="50.8" y1="665.26" x2="251.3" y2="665.26" stroke="#e3e3e3" stroke-width="0.9" stroke-linecap="butt"/>
<line x1="171.1" y1="745.1" x2="171.1" y2="545.5" stroke="#e3e3e3" stroke-width="0.9" stroke-linecap="butt"/>
<line x1="50.8" y1="625.34" x2="251.3" y2="625.34" stroke="#e3e3e3" stroke-width="0.9" stroke-linecap="butt"/>
<line x1="211.2" y1="745.1" x2="211.2" y2="545.5" stroke="#e3e3e3" stroke-width="0.9" stroke-linecap="butt"/>
<line x1="50.8" y1="585.42" x2="251.3" y2="585.42" stroke="#e3e3e3" stroke-width="0.9" stroke-linecap="butt"/>
<rect x="50.8" y="545.5" width="200.5" height="199.6" fill="none" stroke="#8c8c8c" stroke-width="1.1"/>
<line x1="50.8" y1="745.1" x2="251.3" y2="545.5" stroke="#404040" stroke-width="1.2" stroke-dasharray="2.5 1.5" stroke-linecap="butt"/>
<clipPath id="clip1253"><rect x="50.8" y="545.5" width="200.5" height="199.6"/></clipPath><g clip-path="url(#clip1253)">
<path d="M50.8 745.1 L65.12 659.55 L251.3 545.5" fill="none" stroke="#c4444a" stroke-width="1.55" stroke-linecap="butt" stroke-linejoin="miter"/>
<path d="M50.8 745.1 L108.08 745.1 L251.3 545.5" fill="none" stroke="#4a6fc0" stroke-width="1.55" stroke-dasharray="5.5 2.4" stroke-linecap="butt" stroke-linejoin="miter"/>
<path d="M50.8 745.1 L65.12 716.58 L251.3 545.5" fill="none" stroke="#4aa860" stroke-width="1.55" stroke-dasharray="6.4 2.2 1.2 2.2" stroke-linecap="butt" stroke-linejoin="miter"/>
<path d="M50.8 745.1 L65.12 716.58 L251.3 545.5" fill="none" stroke="#6a5acd" stroke-width="1.55" stroke-dasharray="1.2 2.4" stroke-linecap="butt" stroke-linejoin="miter"/>
<path d="M50.8 745.1 L50.8 716.58 L251.3 545.5" fill="none" stroke="#1a1a1a" stroke-width="1.9" stroke-linecap="butt" stroke-linejoin="miter"/>
</g>
<line x1="50.8" y1="745.1" x2="50.8" y2="747.9" stroke="#777" stroke-width="0.9" stroke-linecap="butt"/>
<text x="0" y="0" font-family='"Liberation Serif", serif' font-size="7.6" text-anchor="middle" fill="#4a4a4a" stroke="#4a4a4a" stroke-width="0.12" transform="translate(50.8 756.2) scale(0.87 1)">0.0</text>
<line x1="50.8" y1="745.1" x2="48" y2="745.1" stroke="#777" stroke-width="0.9" stroke-linecap="butt"/>
<text x="0" y="0" font-family='"Liberation Serif", serif' font-size="7.6" text-anchor="end" fill="#4a4a4a" stroke="#4a4a4a" stroke-width="0.12" transform="translate(46.6 748.1) scale(0.87 1)">0.0</text>
<line x1="90.9" y1="745.1" x2="90.9" y2="747.9" stroke="#777" stroke-width="0.9" stroke-linecap="butt"/>
<text x="0" y="0" font-family='"Liberation Serif", serif' font-size="7.6" text-anchor="middle" fill="#4a4a4a" stroke="#4a4a4a" stroke-width="0.12" transform="translate(90.9 756.2) scale(0.87 1)">0.2</text>
<line x1="50.8" y1="705.18" x2="48" y2="705.18" stroke="#777" stroke-width="0.9" stroke-linecap="butt"/>
<text x="0" y="0" font-family='"Liberation Serif", serif' font-size="7.6" text-anchor="end" fill="#4a4a4a" stroke="#4a4a4a" stroke-width="0.12" transform="translate(46.6 708.18) scale(0.87 1)">0.2</text>
<line x1="131" y1="745.1" x2="131" y2="747.9" stroke="#777" stroke-width="0.9" stroke-linecap="butt"/>
<text x="0" y="0" font-family='"Liberation Serif", serif' font-size="7.6" text-anchor="middle" fill="#4a4a4a" stroke="#4a4a4a" stroke-width="0.12" transform="translate(131 756.2) scale(0.87 1)">0.4</text>
<line x1="50.8" y1="665.26" x2="48" y2="665.26" stroke="#777" stroke-width="0.9" stroke-linecap="butt"/>
<text x="0" y="0" font-family='"Liberation Serif", serif' font-size="7.6" text-anchor="end" fill="#4a4a4a" stroke="#4a4a4a" stroke-width="0.12" transform="translate(46.6 668.26) scale(0.87 1)">0.4</text>
<line x1="171.1" y1="745.1" x2="171.1" y2="747.9" stroke="#777" stroke-width="0.9" stroke-linecap="butt"/>
<text x="0" y="0" font-family='"Liberation Serif", serif' font-size="7.6" text-anchor="middle" fill="#4a4a4a" stroke="#4a4a4a" stroke-width="0.12" transform="translate(171.1 756.2) scale(0.87 1)">0.6</text>
<line x1="50.8" y1="625.34" x2="48" y2="625.34" stroke="#777" stroke-width="0.9" stroke-linecap="butt"/>
<text x="0" y="0" font-family='"Liberation Serif", serif' font-size="7.6" text-anchor="end" fill="#4a4a4a" stroke="#4a4a4a" stroke-width="0.12" transform="translate(46.6 628.34) scale(0.87 1)">0.6</text>
<line x1="211.2" y1="745.1" x2="211.2" y2="747.9" stroke="#777" stroke-width="0.9" stroke-linecap="butt"/>
<text x="0" y="0" font-family='"Liberation Serif", serif' font-size="7.6" text-anchor="middle" fill="#4a4a4a" stroke="#4a4a4a" stroke-width="0.12" transform="translate(211.2 756.2) scale(0.87 1)">0.8</text>
<line x1="50.8" y1="585.42" x2="48" y2="585.42" stroke="#777" stroke-width="0.9" stroke-linecap="butt"/>
<text x="0" y="0" font-family='"Liberation Serif", serif' font-size="7.6" text-anchor="end" fill="#4a4a4a" stroke="#4a4a4a" stroke-width="0.12" transform="translate(46.6 588.42) scale(0.87 1)">0.8</text>
<line x1="251.3" y1="745.1" x2="251.3" y2="747.9" stroke="#777" stroke-width="0.9" stroke-linecap="butt"/>
<text x="0" y="0" font-family='"Liberation Serif", serif' font-size="7.6" text-anchor="middle" fill="#4a4a4a" stroke="#4a4a4a" stroke-width="0.12" transform="translate(251.3 756.2) scale(0.87 1)">1.0</text>
<line x1="50.8" y1="545.5" x2="48" y2="545.5" stroke="#777" stroke-width="0.9" stroke-linecap="butt"/>
<text x="0" y="0" font-family='"Liberation Serif", serif' font-size="7.6" text-anchor="end" fill="#4a4a4a" stroke="#4a4a4a" stroke-width="0.12" transform="translate(46.6 548.5) scale(0.87 1)">1.0</text>
<text x="0" y="0" font-family='"Liberation Serif", serif' font-size="8.4" text-anchor="middle" fill="#333" stroke="#333" stroke-width="0.12" transform="translate(151.05 765.1) scale(0.9 1)">False Positive Rate</text>
<text x="0" y="0" font-family='"Liberation Serif", serif' font-size="8.6" text-anchor="middle" fill="#333" stroke="#333" stroke-width="0.12" transform="translate(34.3 645.3) rotate(-90)">True Positive Rate</text>
<text x="0" y="0" font-family='"Liberation Serif", serif' font-size="8.4" text-anchor="middle" fill="#333" stroke="#333" stroke-width="0.12" transform="translate(151.05 542) scale(0.92 1)">All_Genes</text>
<text x="0" y="0" font-family='"Liberation Serif", serif' font-size="8.4" text-anchor="start" fill="#333" stroke="#333" stroke-width="0.12" transform="translate(91.5 585.3) scale(0.9 1)">Average AUC = 0.5357</text>
<rect x="158" y="682" width="90.5" height="59" rx="2" fill="#fff" fill-opacity="0.85" stroke="#dcdcdc" stroke-width="0.9"/>
<line x1="160.5" y1="688.8" x2="175" y2="688.8" stroke="#c4444a" stroke-width="1.55" stroke-linecap="butt"/>
<text x="0" y="0" font-family='"Liberation Serif", serif' font-size="8" text-anchor="start" fill="#2e2e2e" stroke="#2e2e2e" stroke-width="0.12" transform="translate(180 691.5) scale(0.87 1)">KFold1: AUC = 0.6786</text>
<line x1="160.5" y1="699.9" x2="175" y2="699.9" stroke="#4a6fc0" stroke-width="1.55" stroke-dasharray="5.5 2.4" stroke-linecap="butt"/>
<text x="0" y="0" font-family='"Liberation Serif", serif' font-size="8" text-anchor="start" fill="#2e2e2e" stroke="#2e2e2e" stroke-width="0.12" transform="translate(180 702.6) scale(0.87 1)">KFold2: AUC = 0.3571</text>
<line x1="160.5" y1="711" x2="175" y2="711" stroke="#4aa860" stroke-width="1.55" stroke-dasharray="6.4 2.2 1.2 2.2" stroke-linecap="butt"/>
<text x="0" y="0" font-family='"Liberation Serif", serif' font-size="8" text-anchor="start" fill="#2e2e2e" stroke="#2e2e2e" stroke-width="0.12" transform="translate(180 713.7) scale(0.87 1)">KFold3: AUC = 0.5357</text>
<line x1="160.5" y1="722.1" x2="175" y2="722.1" stroke="#6a5acd" stroke-width="1.55" stroke-dasharray="1.2 2.4" stroke-linecap="butt"/>
<text x="0" y="0" font-family='"Liberation Serif", serif' font-size="8" text-anchor="start" fill="#2e2e2e" stroke="#2e2e2e" stroke-width="0.12" transform="translate(180 724.8) scale(0.87 1)">KFold4: AUC = 0.5357</text>
<line x1="160.5" y1="733.2" x2="175" y2="733.2" stroke="#1a1a1a" stroke-width="1.9" stroke-linecap="butt"/>
<text x="0" y="0" font-family='"Liberation Serif", serif' font-size="8" text-anchor="start" fill="#2e2e2e" stroke="#2e2e2e" stroke-width="0.12" transform="translate(180 735.9) scale(0.87 1)">KFold5: AUC = 0.5714</text>
<line x1="350.6" y1="745.1" x2="350.6" y2="545.5" stroke="#e3e3e3" stroke-width="0.9" stroke-linecap="butt"/>
<line x1="310.5" y1="705.18" x2="511" y2="705.18" stroke="#e3e3e3" stroke-width="0.9" stroke-linecap="butt"/>
<line x1="390.7" y1="745.1" x2="390.7" y2="545.5" stroke="#e3e3e3" stroke-width="0.9" stroke-linecap="butt"/>
<line x1="310.5" y1="665.26" x2="511" y2="665.26" stroke="#e3e3e3" stroke-width="0.9" stroke-linecap="butt"/>
<line x1="430.8" y1="745.1" x2="430.8" y2="545.5" stroke="#e3e3e3" stroke-width="0.9" stroke-linecap="butt"/>
<line x1="310.5" y1="625.34" x2="511" y2="625.34" stroke="#e3e3e3" stroke-width="0.9" stroke-linecap="butt"/>
<line x1="470.9" y1="745.1" x2="470.9" y2="545.5" stroke="#e3e3e3" stroke-width="0.9" stroke-linecap="butt"/>
<line x1="310.5" y1="585.42" x2="511" y2="585.42" stroke="#e3e3e3" stroke-width="0.9" stroke-linecap="butt"/>
<rect x="310.5" y="545.5" width="200.5" height="199.6" fill="none" stroke="#8c8c8c" stroke-width="1.1"/>
<line x1="310.5" y1="745.1" x2="511" y2="545.5" stroke="#404040" stroke-width="1.2" stroke-dasharray="2.5 1.5" stroke-linecap="butt"/>
<clipPath id="clip3850"><rect x="310.5" y="545.5" width="200.5" height="199.6"/></clipPath><g clip-path="url(#clip3850)">
<path d="M310.5 745.1 L310.5 659.55 L511 545.5" fill="none" stroke="#c4444a" stroke-width="1.55" stroke-linecap="butt" stroke-linejoin="miter"/>
<path d="M310.5 745.1 L367.78 716.58 L511 545.5" fill="none" stroke="#4a6fc0" stroke-width="1.55" stroke-dasharray="5.5 2.4" stroke-linecap="butt" stroke-linejoin="miter"/>
<path d="M310.5 745.1 L324.82 688.07 L511 545.5" fill="none" stroke="#4aa860" stroke-width="1.55" stroke-dasharray="6.4 2.2 1.2 2.2" stroke-linecap="butt" stroke-linejoin="miter"/>
<path d="M310.5 745.1 L323.87 602.53 L511 545.5" fill="none" stroke="#6a5acd" stroke-width="1.55" stroke-dasharray="1.2 2.4" stroke-linecap="butt" stroke-linejoin="miter"/>
<path d="M310.5 745.1 L310.5 688.07 L511 545.5" fill="none" stroke="#1a1a1a" stroke-width="1.9" stroke-linecap="butt" stroke-linejoin="miter"/>
</g>
<line x1="310.5" y1="745.1" x2="310.5" y2="747.9" stroke="#777" stroke-width="0.9" stroke-linecap="butt"/>
<text x="0" y="0" font-family='"Liberation Serif", serif' font-size="7.6" text-anchor="middle" fill="#4a4a4a" stroke="#4a4a4a" stroke-width="0.12" transform="translate(310.5 756.2) scale(0.87 1)">0.0</text>
<line x1="310.5" y1="745.1" x2="307.7" y2="745.1" stroke="#777" stroke-width="0.9" stroke-linecap="butt"/>
<text x="0" y="0" font-family='"Liberation Serif", serif' font-size="7.6" text-anchor="end" fill="#4a4a4a" stroke="#4a4a4a" stroke-width="0.12" transform="translate(306.3 748.1) scale(0.87 1)">0.0</text>
<line x1="350.6" y1="745.1" x2="350.6" y2="747.9" stroke="#777" stroke-width="0.9" stroke-linecap="butt"/>
<text x="0" y="0" font-family='"Liberation Serif", serif' font-size="7.6" text-anchor="middle" fill="#4a4a4a" stroke="#4a4a4a" stroke-width="0.12" transform="translate(350.6 756.2) scale(0.87 1)">0.2</text>
<line x1="310.5" y1="705.18" x2="307.7" y2="705.18" stroke="#777" stroke-width="0.9" stroke-linecap="butt"/>
<text x="0" y="0" font-family='"Liberation Serif", serif' font-size="7.6" text-anchor="end" fill="#4a4a4a" stroke="#4a4a4a" stroke-width="0.12" transform="translate(306.3 708.18) scale(0.87 1)">0.2</text>
<line x1="390.7" y1="745.1" x2="390.7" y2="747.9" stroke="#777" stroke-width="0.9" stroke-linecap="butt"/>
<text x="0" y="0" font-family='"Liberation Serif", serif' font-size="7.6" text-anchor="middle" fill="#4a4a4a" stroke="#4a4a4a" stroke-width="0.12" transform="translate(390.7 756.2) scale(0.87 1)">0.4</text>
<line x1="310.5" y1="665.26" x2="307.7" y2="665.26" stroke="#777" stroke-width="0.9" stroke-linecap="butt"/>
<text x="0" y="0" font-family='"Liberation Serif", serif' font-size="7.6" text-anchor="end" fill="#4a4a4a" stroke="#4a4a4a" stroke-width="0.12" transform="translate(306.3 668.26) scale(0.87 1)">0.4</text>
<line x1="430.8" y1="745.1" x2="430.8" y2="747.9" stroke="#777" stroke-width="0.9" stroke-linecap="butt"/>
<text x="0" y="0" font-family='"Liberation Serif", serif' font-size="7.6" text-anchor="middle" fill="#4a4a4a" stroke="#4a4a4a" stroke-width="0.12" transform="translate(430.8 756.2) scale(0.87 1)">0.6</text>
<line x1="310.5" y1="625.34" x2="307.7" y2="625.34" stroke="#777" stroke-width="0.9" stroke-linecap="butt"/>
<text x="0" y="0" font-family='"Liberation Serif", serif' font-size="7.6" text-anchor="end" fill="#4a4a4a" stroke="#4a4a4a" stroke-width="0.12" transform="translate(306.3 628.34) scale(0.87 1)">0.6</text>
<line x1="470.9" y1="745.1" x2="470.9" y2="747.9" stroke="#777" stroke-width="0.9" stroke-linecap="butt"/>
<text x="0" y="0" font-family='"Liberation Serif", serif' font-size="7.6" text-anchor="middle" fill="#4a4a4a" stroke="#4a4a4a" stroke-width="0.12" transform="translate(470.9 756.2) scale(0.87 1)">0.8</text>
<line x1="310.5" y1="585.42" x2="307.7" y2="585.42" stroke="#777" stroke-width="0.9" stroke-linecap="butt"/>
<text x="0" y="0" font-family='"Liberation Serif", serif' font-size="7.6" text-anchor="end" fill="#4a4a4a" stroke="#4a4a4a" stroke-width="0.12" transform="translate(306.3 588.42) scale(0.87 1)">0.8</text>
<line x1="511" y1="745.1" x2="511" y2="747.9" stroke="#777" stroke-width="0.9" stroke-linecap="butt"/>
<text x="0" y="0" font-family='"Liberation Serif", serif' font-size="7.6" text-anchor="middle" fill="#4a4a4a" stroke="#4a4a4a" stroke-width="0.12" transform="translate(511 756.2) scale(0.87 1)">1.0</text>
<line x1="310.5" y1="545.5" x2="307.7" y2="545.5" stroke="#777" stroke-width="0.9" stroke-linecap="butt"/>
<text x="0" y="0" font-family='"Liberation Serif", serif' font-size="7.6" text-anchor="end" fill="#4a4a4a" stroke="#4a4a4a" stroke-width="0.12" transform="translate(306.3 548.5) scale(0.87 1)">1.0</text>
<text x="0" y="0" font-family='"Liberation Serif", serif' font-size="8.4" text-anchor="middle" fill="#333" stroke="#333" stroke-width="0.12" transform="translate(410.75 765.1) scale(0.9 1)">False Positive Rate</text>
<text x="0" y="0" font-family='"Liberation Serif", serif' font-size="8.6" text-anchor="middle" fill="#333" stroke="#333" stroke-width="0.12" transform="translate(294 645.3) rotate(-90)">True Positive Rate</text>
<text x="0" y="0" font-family='"Liberation Serif", serif' font-size="8.4" text-anchor="middle" fill="#333" stroke="#333" stroke-width="0.12" transform="translate(410.75 542) scale(0.92 1)">Diff_Genes</text>
<text x="0" y="0" font-family='"Liberation Serif", serif' font-size="8.4" text-anchor="start" fill="#333" stroke="#333" stroke-width="0.12" transform="translate(350.5 585.3) scale(0.9 1)">Average AUC = 0.6429</text>
<rect x="417.5" y="682" width="90.8" height="59" rx="2" fill="#fff" fill-opacity="0.85" stroke="#dcdcdc" stroke-width="0.9"/>
<line x1="420" y1="688.8" x2="434.5" y2="688.8" stroke="#c4444a" stroke-width="1.55" stroke-linecap="butt"/>
<text x="0" y="0" font-family='"Liberation Serif", serif' font-size="8" text-anchor="start" fill="#2e2e2e" stroke="#2e2e2e" stroke-width="0.12" transform="translate(439.5 691.5) scale(0.87 1)">KFold1: AUC = 0.7143</text>
<line x1="420" y1="699.9" x2="434.5" y2="699.9" stroke="#4a6fc0" stroke-width="1.55" stroke-dasharray="5.5 2.4" stroke-linecap="butt"/>
<text x="0" y="0" font-family='"Liberation Serif", serif' font-size="8" text-anchor="start" fill="#2e2e2e" stroke="#2e2e2e" stroke-width="0.12" transform="translate(439.5 702.6) scale(0.87 1)">KFold2: AUC = 0.4286</text>
<line x1="420" y1="711" x2="434.5" y2="711" stroke="#4aa860" stroke-width="1.55" stroke-dasharray="6.4 2.2 1.2 2.2" stroke-linecap="butt"/>
<text x="0" y="0" font-family='"Liberation Serif", serif' font-size="8" text-anchor="start" fill="#2e2e2e" stroke="#2e2e2e" stroke-width="0.12" transform="translate(439.5 713.7) scale(0.87 1)">KFold3: AUC = 0.6071</text>
<line x1="420" y1="722.1" x2="434.5" y2="722.1" stroke="#6a5acd" stroke-width="1.55" stroke-dasharray="1.2 2.4" stroke-linecap="butt"/>
<text x="0" y="0" font-family='"Liberation Serif", serif' font-size="8" text-anchor="start" fill="#2e2e2e" stroke="#2e2e2e" stroke-width="0.12" transform="translate(439.5 724.8) scale(0.87 1)">KFold4: AUC = 0.8214</text>
<line x1="420" y1="733.2" x2="434.5" y2="733.2" stroke="#1a1a1a" stroke-width="1.9" stroke-linecap="butt"/>
<text x="0" y="0" font-family='"Liberation Serif", serif' font-size="8" text-anchor="start" fill="#2e2e2e" stroke="#2e2e2e" stroke-width="0.12" transform="translate(439.5 735.9) scale(0.87 1)">KFold5: AUC = 0.6429</text>
<line x1="609.3" y1="745.1" x2="609.3" y2="545.5" stroke="#e3e3e3" stroke-width="0.9" stroke-linecap="butt"/>
<line x1="569.2" y1="705.18" x2="769.7" y2="705.18" stroke="#e3e3e3" stroke-width="0.9" stroke-linecap="butt"/>
<line x1="649.4" y1="745.1" x2="649.4" y2="545.5" stroke="#e3e3e3" stroke-width="0.9" stroke-linecap="butt"/>
<line x1="569.2" y1="665.26" x2="769.7" y2="665.26" stroke="#e3e3e3" stroke-width="0.9" stroke-linecap="butt"/>
<line x1="689.5" y1="745.1" x2="689.5" y2="545.5" stroke="#e3e3e3" stroke-width="0.9" stroke-linecap="butt"/>
<line x1="569.2" y1="625.34" x2="769.7" y2="625.34" stroke="#e3e3e3" stroke-width="0.9" stroke-linecap="butt"/>
<line x1="729.6" y1="745.1" x2="729.6" y2="545.5" stroke="#e3e3e3" stroke-width="0.9" stroke-linecap="butt"/>
<line x1="569.2" y1="585.42" x2="769.7" y2="585.42" stroke="#e3e3e3" stroke-width="0.9" stroke-linecap="butt"/>
<rect x="569.2" y="545.5" width="200.5" height="199.6" fill="none" stroke="#8c8c8c" stroke-width="1.1"/>
<line x1="569.2" y1="745.1" x2="769.7" y2="545.5" stroke="#404040" stroke-width="1.2" stroke-dasharray="2.5 1.5" stroke-linecap="butt"/>
<clipPath id="clip6437"><rect x="569.2" y="545.5" width="200.5" height="199.6"/></clipPath><g clip-path="url(#clip6437)">
<path d="M569.2 745.1 L597.85 659.55 L769.7 545.5" fill="none" stroke="#c4444a" stroke-width="1.55" stroke-linecap="butt" stroke-linejoin="miter"/>
<path d="M569.2 745.1 L597.85 631.05 L769.7 545.5" fill="none" stroke="#6a5acd" stroke-width="1.55" stroke-dasharray="1.2 2.4" stroke-linecap="butt" stroke-linejoin="miter"/>
<path d="M569.2 745.1 L597.85 631.05 L769.7 545.5" fill="none" stroke="#4a6fc0" stroke-width="1.55" stroke-dasharray="5.5 2.4" stroke-linecap="butt" stroke-linejoin="miter"/>
<path d="M569.2 745.1 L597.85 659.55 L769.7 545.5" fill="none" stroke="#4aa860" stroke-width="1.55" stroke-dasharray="6.4 2.2 1.2 2.2" stroke-linecap="butt" stroke-linejoin="miter"/>
<path d="M569.2 745.1 L597.85 659.55 L769.7 545.5" fill="none" stroke="#1a1a1a" stroke-width="1.9" stroke-linecap="butt" stroke-linejoin="miter"/>
</g>
<line x1="569.2" y1="745.1" x2="569.2" y2="747.9" stroke="#777" stroke-width="0.9" stroke-linecap="butt"/>
<text x="0" y="0" font-family='"Liberation Serif", serif' font-size="7.6" text-anchor="middle" fill="#4a4a4a" stroke="#4a4a4a" stroke-width="0.12" transform="translate(569.2 756.2) scale(0.87 1)">0.0</text>
<line x1="569.2" y1="745.1" x2="566.4" y2="745.1" stroke="#777" stroke-width="0.9" stroke-linecap="butt"/>
<text x="0" y="0" font-family='"Liberation Serif", serif' font-size="7.6" text-anchor="end" fill="#4a4a4a" stroke="#4a4a4a" stroke-width="0.12" transform="translate(565 748.1) scale(0.87 1)">0.0</text>
<line x1="609.3" y1="745.1" x2="609.3" y2="747.9" stroke="#777" stroke-width="0.9" stroke-linecap="butt"/>
<text x="0" y="0" font-family='"Liberation Serif", serif' font-size="7.6" text-anchor="middle" fill="#4a4a4a" stroke="#4a4a4a" stroke-width="0.12" transform="translate(609.3 756.2) scale(0.87 1)">0.2</text>
<line x1="569.2" y1="705.18" x2="566.4" y2="705.18" stroke="#777" stroke-width="0.9" stroke-linecap="butt"/>
<text x="0" y="0" font-family='"Liberation Serif", serif' font-size="7.6" text-anchor="end" fill="#4a4a4a" stroke="#4a4a4a" stroke-width="0.12" transform="translate(565 708.18) scale(0.87 1)">0.2</text>
<line x1="649.4" y1="745.1" x2="649.4" y2="747.9" stroke="#777" stroke-width="0.9" stroke-linecap="butt"/>
<text x="0" y="0" font-family='"Liberation Serif", serif' font-size="7.6" text-anchor="middle" fill="#4a4a4a" stroke="#4a4a4a" stroke-width="0.12" transform="translate(649.4 756.2) scale(0.87 1)">0.4</text>
<line x1="569.2" y1="665.26" x2="566.4" y2="665.26" stroke="#777" stroke-width="0.9" stroke-linecap="butt"/>
<text x="0" y="0" font-family='"Liberation Serif", serif' font-size="7.6" text-anchor="end" fill="#4a4a4a" stroke="#4a4a4a" stroke-width="0.12" transform="translate(565 668.26) scale(0.87 1)">0.4</text>
<line x1="689.5" y1="745.1" x2="689.5" y2="747.9" stroke="#777" stroke-width="0.9" stroke-linecap="butt"/>
<text x="0" y="0" font-family='"Liberation Serif", serif' font-size="7.6" text-anchor="middle" fill="#4a4a4a" stroke="#4a4a4a" stroke-width="0.12" transform="translate(689.5 756.2) scale(0.87 1)">0.6</text>
<line x1="569.2" y1="625.34" x2="566.4" y2="625.34" stroke="#777" stroke-width="0.9" stroke-linecap="butt"/>
<text x="0" y="0" font-family='"Liberation Serif", serif' font-size="7.6" text-anchor="end" fill="#4a4a4a" stroke="#4a4a4a" stroke-width="0.12" transform="translate(565 628.34) scale(0.87 1)">0.6</text>
<line x1="729.6" y1="745.1" x2="729.6" y2="747.9" stroke="#777" stroke-width="0.9" stroke-linecap="butt"/>
<text x="0" y="0" font-family='"Liberation Serif", serif' font-size="7.6" text-anchor="middle" fill="#4a4a4a" stroke="#4a4a4a" stroke-width="0.12" transform="translate(729.6 756.2) scale(0.87 1)">0.8</text>
<line x1="569.2" y1="585.42" x2="566.4" y2="585.42" stroke="#777" stroke-width="0.9" stroke-linecap="butt"/>
<text x="0" y="0" font-family='"Liberation Serif", serif' font-size="7.6" text-anchor="end" fill="#4a4a4a" stroke="#4a4a4a" stroke-width="0.12" transform="translate(565 588.42) scale(0.87 1)">0.8</text>
<line x1="769.7" y1="745.1" x2="769.7" y2="747.9" stroke="#777" stroke-width="0.9" stroke-linecap="butt"/>
<text x="0" y="0" font-family='"Liberation Serif", serif' font-size="7.6" text-anchor="middle" fill="#4a4a4a" stroke="#4a4a4a" stroke-width="0.12" transform="translate(769.7 756.2) scale(0.87 1)">1.0</text>
<line x1="569.2" y1="545.5" x2="566.4" y2="545.5" stroke="#777" stroke-width="0.9" stroke-linecap="butt"/>
<text x="0" y="0" font-family='"Liberation Serif", serif' font-size="7.6" text-anchor="end" fill="#4a4a4a" stroke="#4a4a4a" stroke-width="0.12" transform="translate(565 548.5) scale(0.87 1)">1.0</text>
<text x="0" y="0" font-family='"Liberation Serif", serif' font-size="8.4" text-anchor="middle" fill="#333" stroke="#333" stroke-width="0.12" transform="translate(669.45 765.1) scale(0.9 1)">False Positive Rate</text>
<text x="0" y="0" font-family='"Liberation Serif", serif' font-size="8.6" text-anchor="middle" fill="#333" stroke="#333" stroke-width="0.12" transform="translate(552.7 645.3) rotate(-90)">True Positive Rate</text>
<text x="0" y="0" font-family='"Liberation Serif", serif' font-size="8.4" text-anchor="middle" fill="#333" stroke="#333" stroke-width="0.12" transform="translate(669.45 542) scale(0.92 1)">11_Continuously_changing_Genes</text>
<text x="0" y="0" font-family='"Liberation Serif", serif' font-size="8.4" text-anchor="start" fill="#333" stroke="#333" stroke-width="0.12" transform="translate(609.5 585.3) scale(0.9 1)">Average AUC = 0.6714</text>
<rect x="676.2" y="682" width="91" height="59" rx="2" fill="#fff" fill-opacity="0.85" stroke="#dcdcdc" stroke-width="0.9"/>
<line x1="678.7" y1="688.8" x2="693.2" y2="688.8" stroke="#c4444a" stroke-width="1.55" stroke-linecap="butt"/>
<text x="0" y="0" font-family='"Liberation Serif", serif' font-size="8" text-anchor="start" fill="#2e2e2e" stroke="#2e2e2e" stroke-width="0.12" transform="translate(698.2 691.5) scale(0.87 1)">KFold1: AUC = 0.6429</text>
<line x1="678.7" y1="699.9" x2="693.2" y2="699.9" stroke="#4a6fc0" stroke-width="1.55" stroke-dasharray="5.5 2.4" stroke-linecap="butt"/>
<text x="0" y="0" font-family='"Liberation Serif", serif' font-size="8" text-anchor="start" fill="#2e2e2e" stroke="#2e2e2e" stroke-width="0.12" transform="translate(698.2 702.6) scale(0.87 1)">KFold2: AUC = 0.7143</text>
<line x1="678.7" y1="711" x2="693.2" y2="711" stroke="#4aa860" stroke-width="1.55" stroke-dasharray="6.4 2.2 1.2 2.2" stroke-linecap="butt"/>
<text x="0" y="0" font-family='"Liberation Serif", serif' font-size="8" text-anchor="start" fill="#2e2e2e" stroke="#2e2e2e" stroke-width="0.12" transform="translate(698.2 713.7) scale(0.87 1)">KFold3: AUC = 0.6429</text>
<line x1="678.7" y1="722.1" x2="693.2" y2="722.1" stroke="#6a5acd" stroke-width="1.55" stroke-dasharray="1.2 2.4" stroke-linecap="butt"/>
<text x="0" y="0" font-family='"Liberation Serif", serif' font-size="8" text-anchor="start" fill="#2e2e2e" stroke="#2e2e2e" stroke-width="0.12" transform="translate(698.2 724.8) scale(0.87 1)">KFold4: AUC = 0.7143</text>
<line x1="678.7" y1="733.2" x2="693.2" y2="733.2" stroke="#1a1a1a" stroke-width="1.9" stroke-linecap="butt"/>
<text x="0" y="0" font-family='"Liberation Serif", serif' font-size="8" text-anchor="start" fill="#2e2e2e" stroke="#2e2e2e" stroke-width="0.12" transform="translate(698.2 735.9) scale(0.87 1)">KFold5: AUC = 0.6429</text>
<line x1="90.9" y1="1004.9" x2="90.9" y2="805.3" stroke="#e3e3e3" stroke-width="0.9" stroke-linecap="butt"/>
<line x1="50.8" y1="964.98" x2="251.3" y2="964.98" stroke="#e3e3e3" stroke-width="0.9" stroke-linecap="butt"/>
<line x1="131" y1="1004.9" x2="131" y2="805.3" stroke="#e3e3e3" stroke-width="0.9" stroke-linecap="butt"/>
<line x1="50.8" y1="925.06" x2="251.3" y2="925.06" stroke="#e3e3e3" stroke-width="0.9" stroke-linecap="butt"/>
<line x1="171.1" y1="1004.9" x2="171.1" y2="805.3" stroke="#e3e3e3" stroke-width="0.9" stroke-linecap="butt"/>
<line x1="50.8" y1="885.14" x2="251.3" y2="885.14" stroke="#e3e3e3" stroke-width="0.9" stroke-linecap="butt"/>
<line x1="211.2" y1="1004.9" x2="211.2" y2="805.3" stroke="#e3e3e3" stroke-width="0.9" stroke-linecap="butt"/>
<line x1="50.8" y1="845.22" x2="251.3" y2="845.22" stroke="#e3e3e3" stroke-width="0.9" stroke-linecap="butt"/>
<rect x="50.8" y="805.3" width="200.5" height="199.6" fill="none" stroke="#8c8c8c" stroke-width="1.1"/>
<line x1="50.8" y1="1004.9" x2="251.3" y2="805.3" stroke="#404040" stroke-width="1.2" stroke-dasharray="2.5 1.5" stroke-linecap="butt"/>
<clipPath id="clip1512"><rect x="50.8" y="805.3" width="200.5" height="199.6"/></clipPath><g clip-path="url(#clip1512)">
<path d="M50.8 1004.9 L69.85 876.96 L251.3 805.3" fill="none" stroke="#c4444a" stroke-width="1.55" stroke-linecap="butt" stroke-linejoin="miter"/>
<path d="M50.8 1004.9 L67.44 875.56 L251.3 805.3" fill="none" stroke="#4a6fc0" stroke-width="1.55" stroke-dasharray="5.5 2.4" stroke-linecap="butt" stroke-linejoin="miter"/>
<path d="M50.8 1004.9 L62.43 905.1 L251.3 805.3" fill="none" stroke="#4aa860" stroke-width="1.55" stroke-dasharray="6.4 2.2 1.2 2.2" stroke-linecap="butt" stroke-linejoin="miter"/>
<path d="M50.8 1004.9 L71.85 894.52 L251.3 805.3" fill="none" stroke="#6a5acd" stroke-width="1.55" stroke-dasharray="1.2 2.4" stroke-linecap="butt" stroke-linejoin="miter"/>
<path d="M50.8 1004.9 L72.85 882.35 L251.3 805.3" fill="none" stroke="#1a1a1a" stroke-width="1.9" stroke-linecap="butt" stroke-linejoin="miter"/>
</g>
<line x1="50.8" y1="1004.9" x2="50.8" y2="1007.7" stroke="#777" stroke-width="0.9" stroke-linecap="butt"/>
<text x="0" y="0" font-family='"Liberation Serif", serif' font-size="7.6" text-anchor="middle" fill="#4a4a4a" stroke="#4a4a4a" stroke-width="0.12" transform="translate(50.8 1016) scale(0.87 1)">0.0</text>
<line x1="50.8" y1="1004.9" x2="48" y2="1004.9" stroke="#777" stroke-width="0.9" stroke-linecap="butt"/>
<text x="0" y="0" font-family='"Liberation Serif", serif' font-size="7.6" text-anchor="end" fill="#4a4a4a" stroke="#4a4a4a" stroke-width="0.12" transform="translate(46.6 1007.9) scale(0.87 1)">0.0</text>
<line x1="90.9" y1="1004.9" x2="90.9" y2="1007.7" stroke="#777" stroke-width="0.9" stroke-linecap="butt"/>
<text x="0" y="0" font-family='"Liberation Serif", serif' font-size="7.6" text-anchor="middle" fill="#4a4a4a" stroke="#4a4a4a" stroke-width="0.12" transform="translate(90.9 1016) scale(0.87 1)">0.2</text>
<line x1="50.8" y1="964.98" x2="48" y2="964.98" stroke="#777" stroke-width="0.9" stroke-linecap="butt"/>
<text x="0" y="0" font-family='"Liberation Serif", serif' font-size="7.6" text-anchor="end" fill="#4a4a4a" stroke="#4a4a4a" stroke-width="0.12" transform="translate(46.6 967.98) scale(0.87 1)">0.2</text>
<line x1="131" y1="1004.9" x2="131" y2="1007.7" stroke="#777" stroke-width="0.9" stroke-linecap="butt"/>
<text x="0" y="0" font-family='"Liberation Serif", serif' font-size="7.6" text-anchor="middle" fill="#4a4a4a" stroke="#4a4a4a" stroke-width="0.12" transform="translate(131 1016) scale(0.87 1)">0.4</text>
<line x1="50.8" y1="925.06" x2="48" y2="925.06" stroke="#777" stroke-width="0.9" stroke-linecap="butt"/>
<text x="0" y="0" font-family='"Liberation Serif", serif' font-size="7.6" text-anchor="end" fill="#4a4a4a" stroke="#4a4a4a" stroke-width="0.12" transform="translate(46.6 928.06) scale(0.87 1)">0.4</text>
<line x1="171.1" y1="1004.9" x2="171.1" y2="1007.7" stroke="#777" stroke-width="0.9" stroke-linecap="butt"/>
<text x="0" y="0" font-family='"Liberation Serif", serif' font-size="7.6" text-anchor="middle" fill="#4a4a4a" stroke="#4a4a4a" stroke-width="0.12" transform="translate(171.1 1016) scale(0.87 1)">0.6</text>
<line x1="50.8" y1="885.14" x2="48" y2="885.14" stroke="#777" stroke-width="0.9" stroke-linecap="butt"/>
<text x="0" y="0" font-family='"Liberation Serif", serif' font-size="7.6" text-anchor="end" fill="#4a4a4a" stroke="#4a4a4a" stroke-width="0.12" transform="translate(46.6 888.14) scale(0.87 1)">0.6</text>
<line x1="211.2" y1="1004.9" x2="211.2" y2="1007.7" stroke="#777" stroke-width="0.9" stroke-linecap="butt"/>
<text x="0" y="0" font-family='"Liberation Serif", serif' font-size="7.6" text-anchor="middle" fill="#4a4a4a" stroke="#4a4a4a" stroke-width="0.12" transform="translate(211.2 1016) scale(0.87 1)">0.8</text>
<line x1="50.8" y1="845.22" x2="48" y2="845.22" stroke="#777" stroke-width="0.9" stroke-linecap="butt"/>
<text x="0" y="0" font-family='"Liberation Serif", serif' font-size="7.6" text-anchor="end" fill="#4a4a4a" stroke="#4a4a4a" stroke-width="0.12" transform="translate(46.6 848.22) scale(0.87 1)">0.8</text>
<line x1="251.3" y1="1004.9" x2="251.3" y2="1007.7" stroke="#777" stroke-width="0.9" stroke-linecap="butt"/>
<text x="0" y="0" font-family='"Liberation Serif", serif' font-size="7.6" text-anchor="middle" fill="#4a4a4a" stroke="#4a4a4a" stroke-width="0.12" transform="translate(251.3 1016) scale(0.87 1)">1.0</text>
<line x1="50.8" y1="805.3" x2="48" y2="805.3" stroke="#777" stroke-width="0.9" stroke-linecap="butt"/>
<text x="0" y="0" font-family='"Liberation Serif", serif' font-size="7.6" text-anchor="end" fill="#4a4a4a" stroke="#4a4a4a" stroke-width="0.12" transform="translate(46.6 808.3) scale(0.87 1)">1.0</text>
<text x="0" y="0" font-family='"Liberation Serif", serif' font-size="8.4" text-anchor="middle" fill="#333" stroke="#333" stroke-width="0.12" transform="translate(151.05 1024.9) scale(0.9 1)">False Positive Rate</text>
<text x="0" y="0" font-family='"Liberation Serif", serif' font-size="8.6" text-anchor="middle" fill="#333" stroke="#333" stroke-width="0.12" transform="translate(34.3 905.1) rotate(-90)">True Positive Rate</text>
<text x="0" y="0" font-family='"Liberation Serif", serif' font-size="8.4" text-anchor="middle" fill="#333" stroke="#333" stroke-width="0.12" transform="translate(151.05 801.5) scale(0.92 1)">11_Continuously_Changing_Genes</text>
<text x="0" y="0" font-family='"Liberation Serif", serif' font-size="8.4" text-anchor="start" fill="#333" stroke="#333" stroke-width="0.12" transform="translate(91.5 825) scale(0.9 1)">Average AUC = 0.7511</text>
<text x="0" y="0" font-family='"Liberation Serif", serif' font-size="8.4" text-anchor="start" fill="#333" stroke="#333" stroke-width="0.12" transform="translate(91.5 845.2) scale(0.9 1)">GSE117606</text>
<rect x="157.8" y="941.5" width="90.5" height="58.8" rx="2" fill="#fff" fill-opacity="0.85" stroke="#dcdcdc" stroke-width="0.9"/>
<line x1="160.3" y1="948.3" x2="174.8" y2="948.3" stroke="#c4444a" stroke-width="1.55" stroke-linecap="butt"/>
<text x="0" y="0" font-family='"Liberation Serif", serif' font-size="8" text-anchor="start" fill="#2e2e2e" stroke="#2e2e2e" stroke-width="0.12" transform="translate(179.8 951) scale(0.87 1)">KFold1: AUC = 0.7738</text>
<line x1="160.3" y1="959.55" x2="174.8" y2="959.55" stroke="#4a6fc0" stroke-width="1.55" stroke-dasharray="5.5 2.4" stroke-linecap="butt"/>
<text x="0" y="0" font-family='"Liberation Serif", serif' font-size="8" text-anchor="start" fill="#2e2e2e" stroke="#2e2e2e" stroke-width="0.12" transform="translate(179.8 962.25) scale(0.87 1)">KFold2: AUC = 0.7798</text>
<line x1="160.3" y1="970.8" x2="174.8" y2="970.8" stroke="#4aa860" stroke-width="1.55" stroke-dasharray="6.4 2.2 1.2 2.2" stroke-linecap="butt"/>
<text x="0" y="0" font-family='"Liberation Serif", serif' font-size="8" text-anchor="start" fill="#2e2e2e" stroke="#2e2e2e" stroke-width="0.12" transform="translate(179.8 973.5) scale(0.87 1)">KFold3: AUC = 0.7202</text>
<line x1="160.3" y1="982.05" x2="174.8" y2="982.05" stroke="#6a5acd" stroke-width="1.55" stroke-dasharray="1.2 2.4" stroke-linecap="butt"/>
<text x="0" y="0" font-family='"Liberation Serif", serif' font-size="8" text-anchor="start" fill="#2e2e2e" stroke="#2e2e2e" stroke-width="0.12" transform="translate(179.8 984.75) scale(0.87 1)">KFold4: AUC = 0.7317</text>
<line x1="160.3" y1="993.3" x2="174.8" y2="993.3" stroke="#1a1a1a" stroke-width="1.9" stroke-linecap="butt"/>
<text x="0" y="0" font-family='"Liberation Serif", serif' font-size="8" text-anchor="start" fill="#2e2e2e" stroke="#2e2e2e" stroke-width="0.12" transform="translate(179.8 996) scale(0.87 1)">KFold5: AUC = 0.75</text>
<line x1="349.9" y1="1004.7" x2="349.9" y2="805.1" stroke="#e3e3e3" stroke-width="0.9" stroke-linecap="butt"/>
<line x1="309.8" y1="964.78" x2="510.3" y2="964.78" stroke="#e3e3e3" stroke-width="0.9" stroke-linecap="butt"/>
<line x1="390" y1="1004.7" x2="390" y2="805.1" stroke="#e3e3e3" stroke-width="0.9" stroke-linecap="butt"/>
<line x1="309.8" y1="924.86" x2="510.3" y2="924.86" stroke="#e3e3e3" stroke-width="0.9" stroke-linecap="butt"/>
<line x1="430.1" y1="1004.7" x2="430.1" y2="805.1" stroke="#e3e3e3" stroke-width="0.9" stroke-linecap="butt"/>
<line x1="309.8" y1="884.94" x2="510.3" y2="884.94" stroke="#e3e3e3" stroke-width="0.9" stroke-linecap="butt"/>
<line x1="470.2" y1="1004.7" x2="470.2" y2="805.1" stroke="#e3e3e3" stroke-width="0.9" stroke-linecap="butt"/>
<line x1="309.8" y1="845.02" x2="510.3" y2="845.02" stroke="#e3e3e3" stroke-width="0.9" stroke-linecap="butt"/>
<rect x="309.8" y="805.1" width="200.5" height="199.6" fill="none" stroke="#8c8c8c" stroke-width="1.1"/>
<line x1="309.8" y1="1004.7" x2="510.3" y2="805.1" stroke="#404040" stroke-width="1.2" stroke-dasharray="2.5 1.5" stroke-linecap="butt"/>
<clipPath id="clip4102"><rect x="309.8" y="805.1" width="200.5" height="199.6"/></clipPath><g clip-path="url(#clip4102)">
<path d="M309.8 1004.7 L319.52 832.45 L510.3 805.1" fill="none" stroke="#c4444a" stroke-width="1.55" stroke-linecap="butt" stroke-linejoin="miter"/>
<path d="M309.8 1004.7 L309.8 819.07 L510.3 805.1" fill="none" stroke="#4a6fc0" stroke-width="1.55" stroke-dasharray="5.5 2.4" stroke-linecap="butt" stroke-linejoin="miter"/>
<path d="M309.8 1004.7 L319.52 832.45 L510.3 805.1" fill="none" stroke="#4aa860" stroke-width="1.55" stroke-dasharray="6.4 2.2 1.2 2.2" stroke-linecap="butt" stroke-linejoin="miter"/>
<path d="M309.8 1004.7 L309.8 811.89 L510.3 805.1" fill="none" stroke="#6a5acd" stroke-width="1.55" stroke-dasharray="1.2 2.4" stroke-linecap="butt" stroke-linejoin="miter"/>
<path d="M309.8 1004.7 L313.01 833.04 L510.3 805.1" fill="none" stroke="#1a1a1a" stroke-width="1.9" stroke-linecap="butt" stroke-linejoin="miter"/>
</g>
<line x1="309.8" y1="1004.7" x2="309.8" y2="1007.5" stroke="#777" stroke-width="0.9" stroke-linecap="butt"/>
<text x="0" y="0" font-family='"Liberation Serif", serif' font-size="7.6" text-anchor="middle" fill="#4a4a4a" stroke="#4a4a4a" stroke-width="0.12" transform="translate(309.8 1015.8) scale(0.87 1)">0.0</text>
<line x1="309.8" y1="1004.7" x2="307" y2="1004.7" stroke="#777" stroke-width="0.9" stroke-linecap="butt"/>
<text x="0" y="0" font-family='"Liberation Serif", serif' font-size="7.6" text-anchor="end" fill="#4a4a4a" stroke="#4a4a4a" stroke-width="0.12" transform="translate(305.6 1007.7) scale(0.87 1)">0.0</text>
<line x1="349.9" y1="1004.7" x2="349.9" y2="1007.5" stroke="#777" stroke-width="0.9" stroke-linecap="butt"/>
<text x="0" y="0" font-family='"Liberation Serif", serif' font-size="7.6" text-anchor="middle" fill="#4a4a4a" stroke="#4a4a4a" stroke-width="0.12" transform="translate(349.9 1015.8) scale(0.87 1)">0.2</text>
<line x1="309.8" y1="964.78" x2="307" y2="964.78" stroke="#777" stroke-width="0.9" stroke-linecap="butt"/>
<text x="0" y="0" font-family='"Liberation Serif", serif' font-size="7.6" text-anchor="end" fill="#4a4a4a" stroke="#4a4a4a" stroke-width="0.12" transform="translate(305.6 967.78) scale(0.87 1)">0.2</text>
<line x1="390" y1="1004.7" x2="390" y2="1007.5" stroke="#777" stroke-width="0.9" stroke-linecap="butt"/>
<text x="0" y="0" font-family='"Liberation Serif", serif' font-size="7.6" text-anchor="middle" fill="#4a4a4a" stroke="#4a4a4a" stroke-width="0.12" transform="translate(390 1015.8) scale(0.87 1)">0.4</text>
<line x1="309.8" y1="924.86" x2="307" y2="924.86" stroke="#777" stroke-width="0.9" stroke-linecap="butt"/>
<text x="0" y="0" font-family='"Liberation Serif", serif' font-size="7.6" text-anchor="end" fill="#4a4a4a" stroke="#4a4a4a" stroke-width="0.12" transform="translate(305.6 927.86) scale(0.87 1)">0.4</text>
<line x1="430.1" y1="1004.7" x2="430.1" y2="1007.5" stroke="#777" stroke-width="0.9" stroke-linecap="butt"/>
<text x="0" y="0" font-family='"Liberation Serif", serif' font-size="7.6" text-anchor="middle" fill="#4a4a4a" stroke="#4a4a4a" stroke-width="0.12" transform="translate(430.1 1015.8) scale(0.87 1)">0.6</text>
<line x1="309.8" y1="884.94" x2="307" y2="884.94" stroke="#777" stroke-width="0.9" stroke-linecap="butt"/>
<text x="0" y="0" font-family='"Liberation Serif", serif' font-size="7.6" text-anchor="end" fill="#4a4a4a" stroke="#4a4a4a" stroke-width="0.12" transform="translate(305.6 887.94) scale(0.87 1)">0.6</text>
<line x1="470.2" y1="1004.7" x2="470.2" y2="1007.5" stroke="#777" stroke-width="0.9" stroke-linecap="butt"/>
<text x="0" y="0" font-family='"Liberation Serif", serif' font-size="7.6" text-anchor="middle" fill="#4a4a4a" stroke="#4a4a4a" stroke-width="0.12" transform="translate(470.2 1015.8) scale(0.87 1)">0.8</text>
<line x1="309.8" y1="845.02" x2="307" y2="845.02" stroke="#777" stroke-width="0.9" stroke-linecap="butt"/>
<text x="0" y="0" font-family='"Liberation Serif", serif' font-size="7.6" text-anchor="end" fill="#4a4a4a" stroke="#4a4a4a" stroke-width="0.12" transform="translate(305.6 848.02) scale(0.87 1)">0.8</text>
<line x1="510.3" y1="1004.7" x2="510.3" y2="1007.5" stroke="#777" stroke-width="0.9" stroke-linecap="butt"/>
<text x="0" y="0" font-family='"Liberation Serif", serif' font-size="7.6" text-anchor="middle" fill="#4a4a4a" stroke="#4a4a4a" stroke-width="0.12" transform="translate(510.3 1015.8) scale(0.87 1)">1.0</text>
<line x1="309.8" y1="805.1" x2="307" y2="805.1" stroke="#777" stroke-width="0.9" stroke-linecap="butt"/>
<text x="0" y="0" font-family='"Liberation Serif", serif' font-size="7.6" text-anchor="end" fill="#4a4a4a" stroke="#4a4a4a" stroke-width="0.12" transform="translate(305.6 808.1) scale(0.87 1)">1.0</text>
<text x="0" y="0" font-family='"Liberation Serif", serif' font-size="8.4" text-anchor="middle" fill="#333" stroke="#333" stroke-width="0.12" transform="translate(410.05 1024.7) scale(0.9 1)">False Positive Rate</text>
<text x="0" y="0" font-family='"Liberation Serif", serif' font-size="8.6" text-anchor="middle" fill="#333" stroke="#333" stroke-width="0.12" transform="translate(293.3 904.9) rotate(-90)">True Positive Rate</text>
<text x="0" y="0" font-family='"Liberation Serif", serif' font-size="8.4" text-anchor="middle" fill="#333" stroke="#333" stroke-width="0.12" transform="translate(410.05 801.5) scale(0.92 1)">11_Continuously_Changing_Genes</text>
<text x="0" y="0" font-family='"Liberation Serif", serif' font-size="8.4" text-anchor="start" fill="#333" stroke="#333" stroke-width="0.12" transform="translate(350.5 845.5) scale(0.9 1)">Average AUC = 0.9362</text>
<text x="0" y="0" font-family='"Liberation Serif", serif' font-size="8.4" text-anchor="start" fill="#333" stroke="#333" stroke-width="0.12" transform="translate(350.5 865.7) scale(0.9 1)">GSE20916</text>
<rect x="416.8" y="941" width="90.6" height="59.5" rx="2" fill="#fff" fill-opacity="0.85" stroke="#dcdcdc" stroke-width="0.9"/>
<line x1="419.3" y1="949" x2="433.8" y2="949" stroke="#c4444a" stroke-width="1.55" stroke-linecap="butt"/>
<text x="0" y="0" font-family='"Liberation Serif", serif' font-size="8" text-anchor="start" fill="#2e2e2e" stroke="#2e2e2e" stroke-width="0.12" transform="translate(438.8 951.7) scale(0.87 1)">KFold1: AUC = 0.9052</text>
<line x1="419.3" y1="960.1" x2="433.8" y2="960.1" stroke="#4a6fc0" stroke-width="1.55" stroke-dasharray="5.5 2.4" stroke-linecap="butt"/>
<text x="0" y="0" font-family='"Liberation Serif", serif' font-size="8" text-anchor="start" fill="#2e2e2e" stroke="#2e2e2e" stroke-width="0.12" transform="translate(438.8 962.8) scale(0.87 1)">KFold2: AUC = 0.9655</text>
<line x1="419.3" y1="971.2" x2="433.8" y2="971.2" stroke="#4aa860" stroke-width="1.55" stroke-dasharray="6.4 2.2 1.2 2.2" stroke-linecap="butt"/>
<text x="0" y="0" font-family='"Liberation Serif", serif' font-size="8" text-anchor="start" fill="#2e2e2e" stroke="#2e2e2e" stroke-width="0.12" transform="translate(438.8 973.9) scale(0.87 1)">KFold3: AUC = 0.9052</text>
<line x1="419.3" y1="982.3" x2="433.8" y2="982.3" stroke="#6a5acd" stroke-width="1.55" stroke-dasharray="1.2 2.4" stroke-linecap="butt"/>
<text x="0" y="0" font-family='"Liberation Serif", serif' font-size="8" text-anchor="start" fill="#2e2e2e" stroke="#2e2e2e" stroke-width="0.12" transform="translate(438.8 985) scale(0.87 1)">KFold4: AUC = 0.9828</text>
<line x1="419.3" y1="993.4" x2="433.8" y2="993.4" stroke="#1a1a1a" stroke-width="1.9" stroke-linecap="butt"/>
<text x="0" y="0" font-family='"Liberation Serif", serif' font-size="8" text-anchor="start" fill="#2e2e2e" stroke="#2e2e2e" stroke-width="0.12" transform="translate(438.8 996.1) scale(0.87 1)">KFold5: AUC = 0.9224</text></svg>
</body></html>
